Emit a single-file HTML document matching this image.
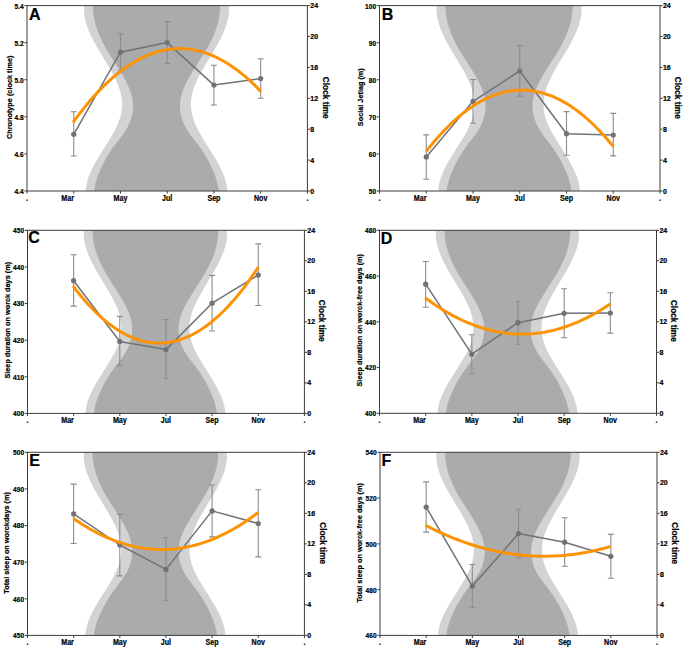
<!DOCTYPE html><html><head><meta charset="utf-8"><style>html,body{margin:0;padding:0;background:#fff;}svg{display:block;}text{font-family:"Liberation Sans",sans-serif;font-weight:bold;fill:#000;stroke:#000;stroke-width:0.22px;}</style></head><body>
<svg width="685" height="648" viewBox="0 0 685 648">
<rect width="685" height="648" fill="#fff"/>
<clipPath id="cA"><rect x="27.0" y="5.6" width="280.4" height="185.4"/></clipPath>
<g clip-path="url(#cA)"><path d="M84.33,3.75 L84.14,5.34 L84.03,6.92 L83.97,8.51 L83.97,10.10 L84.04,11.69 L84.16,13.28 L84.34,14.87 L84.58,16.46 L84.86,18.05 L85.20,19.64 L85.58,21.23 L86.02,22.82 L86.49,24.40 L87.01,25.99 L87.57,27.58 L88.17,29.17 L88.80,30.76 L89.47,32.35 L90.17,33.94 L90.91,35.53 L91.67,37.12 L92.46,38.71 L93.28,40.30 L94.12,41.89 L94.98,43.47 L95.86,45.06 L96.76,46.65 L97.67,48.24 L98.60,49.83 L99.54,51.42 L100.49,53.01 L101.45,54.60 L102.41,56.19 L103.37,57.78 L104.33,59.37 L105.29,60.96 L106.25,62.54 L107.20,64.13 L108.14,65.72 L109.07,67.31 L109.99,68.90 L110.89,70.49 L111.77,72.08 L112.63,73.67 L113.47,75.26 L114.28,76.85 L115.06,78.44 L115.82,80.02 L116.54,81.61 L117.23,83.20 L117.88,84.79 L118.50,86.38 L119.07,87.97 L119.59,89.56 L120.08,91.15 L120.51,92.74 L120.89,94.33 L121.22,95.92 L121.50,97.51 L121.72,99.09 L121.88,100.68 L121.98,102.27 L122.03,103.86 L122.02,105.45 L121.95,107.04 L121.83,108.63 L121.65,110.22 L121.42,111.81 L121.13,113.40 L120.78,114.99 L120.38,116.58 L119.92,118.16 L119.41,119.75 L118.84,121.34 L118.22,122.93 L117.55,124.52 L116.85,126.11 L116.09,127.70 L115.30,129.29 L114.48,130.88 L113.62,132.47 L112.74,134.06 L111.83,135.64 L110.89,137.23 L109.94,138.82 L108.97,140.41 L107.99,142.00 L106.99,143.59 L105.99,145.18 L104.99,146.77 L103.98,148.36 L102.98,149.95 L101.98,151.54 L100.98,153.13 L100.00,154.71 L99.02,156.30 L98.06,157.89 L97.12,159.48 L96.20,161.07 L95.30,162.66 L94.42,164.25 L93.57,165.84 L92.75,167.43 L91.97,169.02 L91.22,170.61 L90.50,172.20 L89.83,173.78 L89.20,175.37 L88.61,176.96 L88.07,178.55 L87.58,180.14 L87.13,181.73 L86.74,183.32 L86.41,184.91 L86.13,186.50 L85.91,188.09 L85.75,189.68 L85.65,191.26 L85.62,192.85 L227.38,192.85 L227.35,191.26 L227.25,189.68 L227.09,188.09 L226.87,186.50 L226.59,184.91 L226.26,183.32 L225.87,181.73 L225.42,180.14 L224.93,178.55 L224.39,176.96 L223.80,175.37 L223.17,173.78 L222.50,172.20 L221.78,170.61 L221.03,169.02 L220.25,167.43 L219.43,165.84 L218.58,164.25 L217.70,162.66 L216.80,161.07 L215.88,159.48 L214.94,157.89 L213.98,156.30 L213.00,154.71 L212.02,153.13 L211.02,151.54 L210.02,149.95 L209.02,148.36 L208.01,146.77 L207.01,145.18 L206.01,143.59 L205.01,142.00 L204.03,140.41 L203.06,138.82 L202.11,137.23 L201.17,135.64 L200.26,134.06 L199.38,132.47 L198.52,130.88 L197.70,129.29 L196.91,127.70 L196.15,126.11 L195.45,124.52 L194.78,122.93 L194.16,121.34 L193.59,119.75 L193.08,118.16 L192.62,116.58 L192.22,114.99 L191.87,113.40 L191.58,111.81 L191.35,110.22 L191.17,108.63 L191.05,107.04 L190.98,105.45 L190.97,103.86 L191.02,102.27 L191.12,100.68 L191.28,99.09 L191.50,97.51 L191.78,95.92 L192.11,94.33 L192.49,92.74 L192.92,91.15 L193.41,89.56 L193.93,87.97 L194.50,86.38 L195.12,84.79 L195.77,83.20 L196.46,81.61 L197.18,80.02 L197.94,78.44 L198.72,76.85 L199.53,75.26 L200.37,73.67 L201.23,72.08 L202.11,70.49 L203.01,68.90 L203.93,67.31 L204.86,65.72 L205.80,64.13 L206.75,62.54 L207.71,60.96 L208.67,59.37 L209.63,57.78 L210.59,56.19 L211.55,54.60 L212.51,53.01 L213.46,51.42 L214.40,49.83 L215.33,48.24 L216.24,46.65 L217.14,45.06 L218.02,43.47 L218.88,41.89 L219.72,40.30 L220.54,38.71 L221.33,37.12 L222.09,35.53 L222.83,33.94 L223.53,32.35 L224.20,30.76 L224.83,29.17 L225.43,27.58 L225.99,25.99 L226.51,24.40 L226.98,22.82 L227.42,21.23 L227.80,19.64 L228.14,18.05 L228.42,16.46 L228.66,14.87 L228.84,13.28 L228.96,11.69 L229.03,10.10 L229.03,8.51 L228.97,6.92 L228.86,5.34 L228.67,3.75 Z" fill="#d2d3d5"/><path d="M93.04,3.75 L92.98,5.34 L92.96,6.92 L92.98,8.51 L93.05,10.10 L93.17,11.69 L93.32,13.28 L93.51,14.87 L93.75,16.46 L94.03,18.05 L94.34,19.64 L94.69,21.23 L95.08,22.82 L95.51,24.40 L95.97,25.99 L96.47,27.58 L97.01,29.17 L97.57,30.76 L98.17,32.35 L98.81,33.94 L99.47,35.53 L100.17,37.12 L100.90,38.71 L101.65,40.30 L102.44,41.89 L103.25,43.47 L104.09,45.06 L104.96,46.65 L105.86,48.24 L106.78,49.83 L107.72,51.42 L108.68,53.01 L109.66,54.60 L110.65,56.19 L111.66,57.78 L112.67,59.37 L113.68,60.96 L114.70,62.54 L115.72,64.13 L116.74,65.72 L117.75,67.31 L118.75,68.90 L119.74,70.49 L120.72,72.08 L121.68,73.67 L122.62,75.26 L123.54,76.85 L124.43,78.44 L125.29,80.02 L126.12,81.61 L126.92,83.20 L127.68,84.79 L128.41,86.38 L129.09,87.97 L129.72,89.56 L130.31,91.15 L130.84,92.74 L131.33,94.33 L131.75,95.92 L132.12,97.51 L132.42,99.09 L132.67,100.68 L132.85,102.27 L132.97,103.86 L133.03,105.45 L133.02,107.04 L132.96,108.63 L132.83,110.22 L132.63,111.81 L132.38,113.40 L132.06,114.99 L131.68,116.58 L131.23,118.16 L130.73,119.75 L130.15,121.34 L129.52,122.93 L128.81,124.52 L128.04,126.11 L127.20,127.70 L126.28,129.29 L125.29,130.88 L124.24,132.47 L123.12,134.06 L121.97,135.64 L120.77,137.23 L119.56,138.82 L118.33,140.41 L117.10,142.00 L115.89,143.59 L114.69,145.18 L113.53,146.77 L112.40,148.36 L111.30,149.95 L110.23,151.54 L109.20,153.13 L108.20,154.71 L107.24,156.30 L106.31,157.89 L105.41,159.48 L104.55,161.07 L103.73,162.66 L102.93,164.25 L102.16,165.84 L101.43,167.43 L100.71,169.02 L100.02,170.61 L99.35,172.20 L98.70,173.78 L98.08,175.37 L97.50,176.96 L96.95,178.55 L96.44,180.14 L95.97,181.73 L95.54,183.32 L95.16,184.91 L94.84,186.50 L94.57,188.09 L94.36,189.68 L94.21,191.26 L94.13,192.85 L218.87,192.85 L218.79,191.26 L218.64,189.68 L218.43,188.09 L218.16,186.50 L217.84,184.91 L217.46,183.32 L217.03,181.73 L216.56,180.14 L216.05,178.55 L215.50,176.96 L214.92,175.37 L214.30,173.78 L213.65,172.20 L212.98,170.61 L212.29,169.02 L211.57,167.43 L210.84,165.84 L210.07,164.25 L209.27,162.66 L208.45,161.07 L207.59,159.48 L206.69,157.89 L205.76,156.30 L204.80,154.71 L203.80,153.13 L202.77,151.54 L201.70,149.95 L200.60,148.36 L199.47,146.77 L198.31,145.18 L197.11,143.59 L195.90,142.00 L194.67,140.41 L193.44,138.82 L192.23,137.23 L191.03,135.64 L189.88,134.06 L188.76,132.47 L187.71,130.88 L186.72,129.29 L185.80,127.70 L184.96,126.11 L184.19,124.52 L183.48,122.93 L182.85,121.34 L182.27,119.75 L181.77,118.16 L181.32,116.58 L180.94,114.99 L180.62,113.40 L180.37,111.81 L180.17,110.22 L180.04,108.63 L179.98,107.04 L179.97,105.45 L180.03,103.86 L180.15,102.27 L180.33,100.68 L180.58,99.09 L180.88,97.51 L181.25,95.92 L181.67,94.33 L182.16,92.74 L182.69,91.15 L183.28,89.56 L183.91,87.97 L184.59,86.38 L185.32,84.79 L186.08,83.20 L186.88,81.61 L187.71,80.02 L188.57,78.44 L189.46,76.85 L190.38,75.26 L191.32,73.67 L192.28,72.08 L193.26,70.49 L194.25,68.90 L195.25,67.31 L196.26,65.72 L197.28,64.13 L198.30,62.54 L199.32,60.96 L200.33,59.37 L201.34,57.78 L202.35,56.19 L203.34,54.60 L204.32,53.01 L205.28,51.42 L206.22,49.83 L207.14,48.24 L208.04,46.65 L208.91,45.06 L209.75,43.47 L210.56,41.89 L211.35,40.30 L212.10,38.71 L212.83,37.12 L213.53,35.53 L214.19,33.94 L214.83,32.35 L215.43,30.76 L215.99,29.17 L216.53,27.58 L217.03,25.99 L217.49,24.40 L217.92,22.82 L218.31,21.23 L218.66,19.64 L218.97,18.05 L219.25,16.46 L219.49,14.87 L219.68,13.28 L219.83,11.69 L219.95,10.10 L220.02,8.51 L220.04,6.92 L220.02,5.34 L219.96,3.75 Z" fill="#aaabad"/></g>
<path d="M73.73,111.8 V156.0 M70.73,111.8 H76.73 M70.73,156.0 H76.73" stroke="#8c8c8c" stroke-width="1.1" fill="none"/>
<path d="M120.47,33.8 V70.3 M117.47,33.8 H123.47 M117.47,70.3 H123.47" stroke="#8c8c8c" stroke-width="1.1" fill="none"/>
<path d="M167.20,21.6 V63.4 M164.20,21.6 H170.20 M164.20,63.4 H170.20" stroke="#8c8c8c" stroke-width="1.1" fill="none"/>
<path d="M213.93,65.2 V105.0 M210.93,65.2 H216.93 M210.93,105.0 H216.93" stroke="#8c8c8c" stroke-width="1.1" fill="none"/>
<path d="M260.67,58.7 V98.2 M257.67,58.7 H263.67 M257.67,98.2 H263.67" stroke="#8c8c8c" stroke-width="1.1" fill="none"/>
<polyline points="73.73,134.3 120.47,52.2 167.20,42.6 213.93,85.1 260.67,78.5" stroke="#717275" stroke-width="1.5" fill="none" stroke-linejoin="round"/>
<circle cx="73.73" cy="134.3" r="2.6" fill="#717275"/>
<circle cx="120.47" cy="52.2" r="2.6" fill="#717275"/>
<circle cx="167.20" cy="42.6" r="2.6" fill="#717275"/>
<circle cx="213.93" cy="85.1" r="2.6" fill="#717275"/>
<circle cx="260.67" cy="78.5" r="2.6" fill="#717275"/>
<path d="M73.00,122.47 L76.19,118.12 L79.37,113.90 L82.56,109.81 L85.75,105.86 L88.93,102.04 L92.12,98.35 L95.31,94.79 L98.49,91.37 L101.68,88.07 L104.86,84.91 L108.05,81.88 L111.24,78.98 L114.42,76.22 L117.61,73.58 L120.80,71.08 L123.98,68.71 L127.17,66.47 L130.36,64.37 L133.54,62.39 L136.73,60.55 L139.92,58.84 L143.10,57.26 L146.29,55.82 L149.47,54.50 L152.66,53.32 L155.85,52.27 L159.03,51.35 L162.22,50.57 L165.41,49.91 L168.59,49.39 L171.78,49.00 L174.97,48.74 L178.15,48.61 L181.34,48.62 L184.53,48.76 L187.71,49.03 L190.90,49.43 L194.08,49.96 L197.27,50.63 L200.46,51.43 L203.64,52.35 L206.83,53.42 L210.02,54.61 L213.20,55.93 L216.39,57.39 L219.58,58.98 L222.76,60.70 L225.95,62.55 L229.14,64.54 L232.32,66.66 L235.51,68.91 L238.69,71.29 L241.88,73.80 L245.07,76.44 L248.25,79.22 L251.44,82.13 L254.63,85.17 L257.81,88.34 L261.00,91.65" stroke="#fc9304" stroke-width="3.0" fill="none"/>
<rect x="27.0" y="5.6" width="280.4" height="185.4" fill="none" stroke="#3c3c3c" stroke-width="1"/>
<path d="M27.00,191.0 v2.6 M73.73,191.0 v2.6 M120.47,191.0 v2.6 M167.20,191.0 v2.6 M213.93,191.0 v2.6 M260.67,191.0 v2.6 M307.40,191.0 v2.6 M27.0,191.00 h-2.6 M27.0,153.92 h-2.6 M27.0,116.84 h-2.6 M27.0,79.76 h-2.6 M27.0,42.68 h-2.6 M27.0,5.60 h-2.6 M307.4,191.00 h2.6 M307.4,160.10 h2.6 M307.4,129.20 h2.6 M307.4,98.30 h2.6 M307.4,67.40 h2.6 M307.4,36.50 h2.6 M307.4,5.60 h2.6" stroke="#3c3c3c" stroke-width="1" fill="none"/>
<text transform="translate(23.60,193.90) scale(0.88,1)" font-size="7.5" text-anchor="end">4.4</text>
<text transform="translate(23.60,156.82) scale(0.88,1)" font-size="7.5" text-anchor="end">4.6</text>
<text transform="translate(23.60,119.74) scale(0.88,1)" font-size="7.5" text-anchor="end">4.8</text>
<text transform="translate(23.60,82.66) scale(0.88,1)" font-size="7.5" text-anchor="end">5.0</text>
<text transform="translate(23.60,45.58) scale(0.88,1)" font-size="7.5" text-anchor="end">5.2</text>
<text transform="translate(23.60,8.50) scale(0.88,1)" font-size="7.5" text-anchor="end">5.4</text>
<text x="310.30" y="193.50" font-size="7">0</text>
<text x="310.30" y="162.60" font-size="7">4</text>
<text x="310.30" y="131.70" font-size="7">8</text>
<text x="310.30" y="100.80" font-size="7">12</text>
<text x="310.30" y="69.90" font-size="7">16</text>
<text x="310.30" y="39.00" font-size="7">20</text>
<text x="310.30" y="8.10" font-size="7">24</text>
<text transform="translate(27.00,200.70) scale(0.8,1)" font-size="8.9" text-anchor="middle">.</text>
<text transform="translate(73.93,200.70) scale(0.8,1)" font-size="8.9" text-anchor="end">Mar</text>
<text transform="translate(120.47,200.70) scale(0.8,1)" font-size="8.9" text-anchor="middle">May</text>
<text transform="translate(167.20,200.70) scale(0.8,1)" font-size="8.9" text-anchor="middle">Jul</text>
<text transform="translate(213.93,200.70) scale(0.8,1)" font-size="8.9" text-anchor="middle">Sep</text>
<text transform="translate(260.67,200.70) scale(0.8,1)" font-size="8.9" text-anchor="middle">Nov</text>
<text transform="translate(307.40,200.70) scale(0.8,1)" font-size="8.9" text-anchor="middle">.</text>
<text x="28.90" y="19.70" font-size="16">A</text>
<text transform="translate(11.80,97.30) rotate(-90) scale(0.936,1)" font-size="7.8" text-anchor="middle">Chronotype (clock time)</text>
<text transform="translate(323.00,97.75) rotate(90) scale(0.933,1)" font-size="8.9" text-anchor="middle">Clock time</text>
<clipPath id="cB"><rect x="379.5" y="5.6" width="280.5" height="185.4"/></clipPath>
<g clip-path="url(#cB)"><path d="M436.85,3.75 L436.67,5.34 L436.55,6.92 L436.49,8.51 L436.50,10.10 L436.56,11.69 L436.68,13.28 L436.86,14.87 L437.10,16.46 L437.38,18.05 L437.72,19.64 L438.10,21.23 L438.54,22.82 L439.01,24.40 L439.53,25.99 L440.09,27.58 L440.69,29.17 L441.32,30.76 L441.99,32.35 L442.70,33.94 L443.43,35.53 L444.19,37.12 L444.98,38.71 L445.80,40.30 L446.64,41.89 L447.50,43.47 L448.38,45.06 L449.28,46.65 L450.20,48.24 L451.13,49.83 L452.07,51.42 L453.02,53.01 L453.97,54.60 L454.93,56.19 L455.90,57.78 L456.86,59.37 L457.82,60.96 L458.78,62.54 L459.73,64.13 L460.67,65.72 L461.60,67.31 L462.52,68.90 L463.42,70.49 L464.30,72.08 L465.16,73.67 L466.00,75.26 L466.81,76.85 L467.60,78.44 L468.35,80.02 L469.07,81.61 L469.76,83.20 L470.41,84.79 L471.03,86.38 L471.60,87.97 L472.13,89.56 L472.61,91.15 L473.04,92.74 L473.43,94.33 L473.76,95.92 L474.03,97.51 L474.25,99.09 L474.41,100.68 L474.52,102.27 L474.56,103.86 L474.55,105.45 L474.49,107.04 L474.36,108.63 L474.19,110.22 L473.95,111.81 L473.66,113.40 L473.31,114.99 L472.91,116.58 L472.45,118.16 L471.94,119.75 L471.37,121.34 L470.75,122.93 L470.09,124.52 L469.38,126.11 L468.63,127.70 L467.84,129.29 L467.01,130.88 L466.15,132.47 L465.27,134.06 L464.36,135.64 L463.42,137.23 L462.47,138.82 L461.50,140.41 L460.51,142.00 L459.52,143.59 L458.52,145.18 L457.52,146.77 L456.51,148.36 L455.50,149.95 L454.50,151.54 L453.51,153.13 L452.52,154.71 L451.55,156.30 L450.59,157.89 L449.64,159.48 L448.72,161.07 L447.82,162.66 L446.94,164.25 L446.10,165.84 L445.28,167.43 L444.49,169.02 L443.74,170.61 L443.03,172.20 L442.35,173.78 L441.72,175.37 L441.13,176.96 L440.59,178.55 L440.10,180.14 L439.66,181.73 L439.26,183.32 L438.93,184.91 L438.65,186.50 L438.43,188.09 L438.27,189.68 L438.17,191.26 L438.14,192.85 L579.95,192.85 L579.92,191.26 L579.82,189.68 L579.66,188.09 L579.44,186.50 L579.16,184.91 L578.83,183.32 L578.44,181.73 L577.99,180.14 L577.50,178.55 L576.96,176.96 L576.37,175.37 L575.74,173.78 L575.07,172.20 L574.35,170.61 L573.60,169.02 L572.82,167.43 L572.00,165.84 L571.15,164.25 L570.27,162.66 L569.37,161.07 L568.45,159.48 L567.50,157.89 L566.54,156.30 L565.57,154.71 L564.59,153.13 L563.59,151.54 L562.59,149.95 L561.58,148.36 L560.58,146.77 L559.57,145.18 L558.57,143.59 L557.58,142.00 L556.59,140.41 L555.62,138.82 L554.67,137.23 L553.74,135.64 L552.82,134.06 L551.94,132.47 L551.08,130.88 L550.26,129.29 L549.47,127.70 L548.72,126.11 L548.01,124.52 L547.34,122.93 L546.72,121.34 L546.15,119.75 L545.64,118.16 L545.18,116.58 L544.78,114.99 L544.43,113.40 L544.14,111.81 L543.91,110.22 L543.73,108.63 L543.61,107.04 L543.54,105.45 L543.53,103.86 L543.58,102.27 L543.68,100.68 L543.84,99.09 L544.06,97.51 L544.34,95.92 L544.67,94.33 L545.05,92.74 L545.48,91.15 L545.96,89.56 L546.49,87.97 L547.06,86.38 L547.68,84.79 L548.33,83.20 L549.02,81.61 L549.74,80.02 L550.50,78.44 L551.28,76.85 L552.09,75.26 L552.93,73.67 L553.79,72.08 L554.68,70.49 L555.58,68.90 L556.49,67.31 L557.42,65.72 L558.36,64.13 L559.31,62.54 L560.27,60.96 L561.23,59.37 L562.19,57.78 L563.16,56.19 L564.12,54.60 L565.08,53.01 L566.03,51.42 L566.97,49.83 L567.90,48.24 L568.81,46.65 L569.71,45.06 L570.59,43.47 L571.45,41.89 L572.29,40.30 L573.11,38.71 L573.90,37.12 L574.66,35.53 L575.40,33.94 L576.10,32.35 L576.77,30.76 L577.40,29.17 L578.00,27.58 L578.56,25.99 L579.08,24.40 L579.56,22.82 L579.99,21.23 L580.37,19.64 L580.71,18.05 L580.99,16.46 L581.23,14.87 L581.41,13.28 L581.53,11.69 L581.60,10.10 L581.60,8.51 L581.55,6.92 L581.43,5.34 L581.24,3.75 Z" fill="#d2d3d5"/><path d="M445.56,3.75 L445.50,5.34 L445.48,6.92 L445.51,8.51 L445.58,10.10 L445.69,11.69 L445.84,13.28 L446.04,14.87 L446.27,16.46 L446.55,18.05 L446.86,19.64 L447.22,21.23 L447.61,22.82 L448.03,24.40 L448.50,25.99 L449.00,27.58 L449.53,29.17 L450.10,30.76 L450.70,32.35 L451.33,33.94 L452.00,35.53 L452.70,37.12 L453.42,38.71 L454.18,40.30 L454.97,41.89 L455.78,43.47 L456.62,45.06 L457.49,46.65 L458.39,48.24 L459.31,49.83 L460.25,51.42 L461.21,53.01 L462.19,54.60 L463.18,56.19 L464.19,57.78 L465.20,59.37 L466.21,60.96 L467.23,62.54 L468.25,64.13 L469.27,65.72 L470.28,67.31 L471.28,68.90 L472.28,70.49 L473.25,72.08 L474.21,73.67 L475.15,75.26 L476.07,76.85 L476.96,78.44 L477.83,80.02 L478.66,81.61 L479.46,83.20 L480.22,84.79 L480.94,86.38 L481.62,87.97 L482.26,89.56 L482.84,91.15 L483.38,92.74 L483.86,94.33 L484.29,95.92 L484.66,97.51 L484.96,99.09 L485.21,100.68 L485.39,102.27 L485.51,103.86 L485.57,105.45 L485.56,107.04 L485.49,108.63 L485.36,110.22 L485.17,111.81 L484.91,113.40 L484.60,114.99 L484.22,116.58 L483.77,118.16 L483.26,119.75 L482.69,121.34 L482.05,122.93 L481.35,124.52 L480.58,126.11 L479.73,127.70 L478.82,129.29 L477.83,130.88 L476.77,132.47 L475.66,134.06 L474.50,135.64 L473.31,137.23 L472.09,138.82 L470.86,140.41 L469.64,142.00 L468.42,143.59 L467.22,145.18 L466.06,146.77 L464.93,148.36 L463.83,149.95 L462.76,151.54 L461.73,153.13 L460.73,154.71 L459.77,156.30 L458.84,157.89 L457.94,159.48 L457.08,161.07 L456.25,162.66 L455.46,164.25 L454.69,165.84 L453.95,167.43 L453.24,169.02 L452.54,170.61 L451.87,172.20 L451.23,173.78 L450.61,175.37 L450.02,176.96 L449.47,178.55 L448.96,180.14 L448.49,181.73 L448.07,183.32 L447.69,184.91 L447.36,186.50 L447.09,188.09 L446.88,189.68 L446.74,191.26 L446.65,192.85 L571.44,192.85 L571.36,191.26 L571.21,189.68 L571.00,188.09 L570.73,186.50 L570.40,184.91 L570.03,183.32 L569.60,181.73 L569.13,180.14 L568.62,178.55 L568.07,176.96 L567.48,175.37 L566.87,173.78 L566.22,172.20 L565.55,170.61 L564.86,169.02 L564.14,167.43 L563.40,165.84 L562.63,164.25 L561.84,162.66 L561.01,161.07 L560.15,159.48 L559.26,157.89 L558.33,156.30 L557.36,154.71 L556.36,153.13 L555.33,151.54 L554.26,149.95 L553.16,148.36 L552.03,146.77 L550.87,145.18 L549.67,143.59 L548.46,142.00 L547.23,140.41 L546.00,138.82 L544.79,137.23 L543.59,135.64 L542.43,134.06 L541.32,132.47 L540.26,130.88 L539.28,129.29 L538.36,127.70 L537.52,126.11 L536.74,124.52 L536.04,122.93 L535.40,121.34 L534.83,119.75 L534.32,118.16 L533.88,116.58 L533.50,114.99 L533.18,113.40 L532.92,111.81 L532.73,110.22 L532.60,108.63 L532.53,107.04 L532.53,105.45 L532.58,103.86 L532.70,102.27 L532.89,100.68 L533.13,99.09 L533.44,97.51 L533.80,95.92 L534.23,94.33 L534.71,92.74 L535.25,91.15 L535.84,89.56 L536.47,87.97 L537.15,86.38 L537.87,84.79 L538.64,83.20 L539.43,81.61 L540.27,80.02 L541.13,78.44 L542.02,76.85 L542.94,75.26 L543.88,73.67 L544.84,72.08 L545.82,70.49 L546.81,68.90 L547.81,67.31 L548.82,65.72 L549.84,64.13 L550.86,62.54 L551.88,60.96 L552.90,59.37 L553.91,57.78 L554.91,56.19 L555.90,54.60 L556.88,53.01 L557.84,51.42 L558.79,49.83 L559.71,48.24 L560.60,46.65 L561.47,45.06 L562.31,43.47 L563.13,41.89 L563.91,40.30 L564.67,38.71 L565.40,37.12 L566.09,35.53 L566.76,33.94 L567.39,32.35 L567.99,30.76 L568.56,29.17 L569.10,27.58 L569.59,25.99 L570.06,24.40 L570.49,22.82 L570.88,21.23 L571.23,19.64 L571.54,18.05 L571.82,16.46 L572.05,14.87 L572.25,13.28 L572.40,11.69 L572.51,10.10 L572.58,8.51 L572.61,6.92 L572.59,5.34 L572.53,3.75 Z" fill="#aaabad"/></g>
<path d="M426.25,134.9 V179.2 M423.25,134.9 H429.25 M423.25,179.2 H429.25" stroke="#8c8c8c" stroke-width="1.1" fill="none"/>
<path d="M473.00,79.5 V123.3 M470.00,79.5 H476.00 M470.00,123.3 H476.00" stroke="#8c8c8c" stroke-width="1.1" fill="none"/>
<path d="M519.75,45.8 V96.3 M516.75,45.8 H522.75 M516.75,96.3 H522.75" stroke="#8c8c8c" stroke-width="1.1" fill="none"/>
<path d="M566.50,111.6 V155.3 M563.50,111.6 H569.50 M563.50,155.3 H569.50" stroke="#8c8c8c" stroke-width="1.1" fill="none"/>
<path d="M613.25,113.4 V155.9 M610.25,113.4 H616.25 M610.25,155.9 H616.25" stroke="#8c8c8c" stroke-width="1.1" fill="none"/>
<polyline points="426.25,156.9 473.00,101.3 519.75,71.0 566.50,133.7 613.25,135.0" stroke="#717275" stroke-width="1.5" fill="none" stroke-linejoin="round"/>
<circle cx="426.25" cy="156.9" r="2.6" fill="#717275"/>
<circle cx="473.00" cy="101.3" r="2.6" fill="#717275"/>
<circle cx="519.75" cy="71.0" r="2.6" fill="#717275"/>
<circle cx="566.50" cy="133.7" r="2.6" fill="#717275"/>
<circle cx="613.25" cy="135.0" r="2.6" fill="#717275"/>
<path d="M426.20,151.39 L429.37,147.39 L432.55,143.52 L435.72,139.79 L438.89,136.19 L442.06,132.73 L445.24,129.40 L448.41,126.21 L451.58,123.15 L454.76,120.23 L457.93,117.44 L461.10,114.79 L464.27,112.27 L467.45,109.89 L470.62,107.65 L473.79,105.54 L476.97,103.56 L480.14,101.72 L483.31,100.02 L486.48,98.45 L489.66,97.01 L492.83,95.71 L496.00,94.55 L499.18,93.52 L502.35,92.63 L505.52,91.87 L508.69,91.25 L511.87,90.76 L515.04,90.40 L518.21,90.19 L521.39,90.10 L524.56,90.16 L527.73,90.34 L530.91,90.67 L534.08,91.13 L537.25,91.72 L540.42,92.45 L543.60,93.31 L546.77,94.31 L549.94,95.45 L553.12,96.72 L556.29,98.12 L559.46,99.66 L562.63,101.33 L565.81,103.15 L568.98,105.09 L572.15,107.17 L575.33,109.39 L578.50,111.74 L581.67,114.22 L584.84,116.85 L588.02,119.60 L591.19,122.49 L594.36,125.52 L597.54,128.68 L600.71,131.98 L603.88,135.41 L607.05,138.98 L610.23,142.68 L613.40,146.52" stroke="#fc9304" stroke-width="3.0" fill="none"/>
<rect x="379.5" y="5.6" width="280.5" height="185.4" fill="none" stroke="#3c3c3c" stroke-width="1"/>
<path d="M379.50,191.0 v2.6 M426.25,191.0 v2.6 M473.00,191.0 v2.6 M519.75,191.0 v2.6 M566.50,191.0 v2.6 M613.25,191.0 v2.6 M660.00,191.0 v2.6 M379.5,191.00 h-2.6 M379.5,153.92 h-2.6 M379.5,116.84 h-2.6 M379.5,79.76 h-2.6 M379.5,42.68 h-2.6 M379.5,5.60 h-2.6 M660.0,191.00 h2.6 M660.0,160.10 h2.6 M660.0,129.20 h2.6 M660.0,98.30 h2.6 M660.0,67.40 h2.6 M660.0,36.50 h2.6 M660.0,5.60 h2.6" stroke="#3c3c3c" stroke-width="1" fill="none"/>
<text transform="translate(376.10,193.90) scale(0.88,1)" font-size="7.5" text-anchor="end">50</text>
<text transform="translate(376.10,156.82) scale(0.88,1)" font-size="7.5" text-anchor="end">60</text>
<text transform="translate(376.10,119.74) scale(0.88,1)" font-size="7.5" text-anchor="end">70</text>
<text transform="translate(376.10,82.66) scale(0.88,1)" font-size="7.5" text-anchor="end">80</text>
<text transform="translate(376.10,45.58) scale(0.88,1)" font-size="7.5" text-anchor="end">90</text>
<text transform="translate(376.10,8.50) scale(0.88,1)" font-size="7.5" text-anchor="end">100</text>
<text x="662.90" y="193.50" font-size="7">0</text>
<text x="662.90" y="162.60" font-size="7">4</text>
<text x="662.90" y="131.70" font-size="7">8</text>
<text x="662.90" y="100.80" font-size="7">12</text>
<text x="662.90" y="69.90" font-size="7">16</text>
<text x="662.90" y="39.00" font-size="7">20</text>
<text x="662.90" y="8.10" font-size="7">24</text>
<text transform="translate(379.50,200.70) scale(0.8,1)" font-size="8.9" text-anchor="middle">.</text>
<text transform="translate(426.45,200.70) scale(0.8,1)" font-size="8.9" text-anchor="end">Mar</text>
<text transform="translate(473.00,200.70) scale(0.8,1)" font-size="8.9" text-anchor="middle">May</text>
<text transform="translate(519.75,200.70) scale(0.8,1)" font-size="8.9" text-anchor="middle">Jul</text>
<text transform="translate(566.50,200.70) scale(0.8,1)" font-size="8.9" text-anchor="middle">Sep</text>
<text transform="translate(613.25,200.70) scale(0.8,1)" font-size="8.9" text-anchor="middle">Nov</text>
<text transform="translate(660.00,200.70) scale(0.8,1)" font-size="8.9" text-anchor="middle">.</text>
<text x="381.80" y="19.60" font-size="16">B</text>
<text transform="translate(363.00,97.20) rotate(-90) scale(0.936,1)" font-size="7.8" text-anchor="middle">Social Jetlag (m)</text>
<text transform="translate(675.10,97.80) rotate(90) scale(0.933,1)" font-size="8.9" text-anchor="middle">Clock time</text>
<clipPath id="cC"><rect x="27.5" y="230.3" width="276.9" height="183.09999999999997"/></clipPath>
<g clip-path="url(#cC)"><path d="M84.11,228.47 L83.93,230.04 L83.81,231.61 L83.76,233.18 L83.76,234.75 L83.83,236.32 L83.95,237.89 L84.13,239.46 L84.36,241.02 L84.64,242.59 L84.97,244.16 L85.35,245.73 L85.78,247.30 L86.25,248.87 L86.76,250.44 L87.31,252.01 L87.90,253.58 L88.53,255.15 L89.19,256.72 L89.88,258.29 L90.61,259.86 L91.36,261.43 L92.14,263.00 L92.95,264.57 L93.78,266.14 L94.63,267.70 L95.50,269.27 L96.39,270.84 L97.29,272.41 L98.21,273.98 L99.14,275.55 L100.07,277.12 L101.02,278.69 L101.97,280.26 L102.92,281.83 L103.87,283.40 L104.82,284.97 L105.76,286.54 L106.70,288.11 L107.63,289.68 L108.55,291.25 L109.45,292.82 L110.34,294.38 L111.21,295.95 L112.06,297.52 L112.89,299.09 L113.69,300.66 L114.46,302.23 L115.21,303.80 L115.92,305.37 L116.60,306.94 L117.25,308.51 L117.85,310.08 L118.42,311.65 L118.94,313.22 L119.41,314.79 L119.84,316.36 L120.22,317.93 L120.55,319.50 L120.82,321.07 L121.03,322.63 L121.19,324.20 L121.30,325.77 L121.34,327.34 L121.33,328.91 L121.27,330.48 L121.15,332.05 L120.97,333.62 L120.74,335.19 L120.45,336.76 L120.11,338.33 L119.71,339.90 L119.26,341.47 L118.75,343.04 L118.19,344.61 L117.58,346.18 L116.92,347.75 L116.22,349.31 L115.48,350.88 L114.70,352.45 L113.89,354.02 L113.04,355.59 L112.17,357.16 L111.27,358.73 L110.35,360.30 L109.40,361.87 L108.45,363.44 L107.48,365.01 L106.49,366.58 L105.51,368.15 L104.51,369.72 L103.52,371.29 L102.53,372.86 L101.54,374.43 L100.56,376.00 L99.58,377.56 L98.62,379.13 L97.68,380.70 L96.74,382.27 L95.83,383.84 L94.94,385.41 L94.08,386.98 L93.24,388.55 L92.43,390.12 L91.66,391.69 L90.91,393.26 L90.21,394.83 L89.55,396.40 L88.92,397.97 L88.34,399.54 L87.81,401.11 L87.32,402.68 L86.88,404.25 L86.50,405.81 L86.17,407.38 L85.89,408.95 L85.67,410.52 L85.51,412.09 L85.42,413.66 L85.39,415.23 L225.38,415.23 L225.35,413.66 L225.25,412.09 L225.10,410.52 L224.88,408.95 L224.60,407.38 L224.27,405.81 L223.88,404.25 L223.45,402.68 L222.96,401.11 L222.42,399.54 L221.84,397.97 L221.22,396.40 L220.56,394.83 L219.85,393.26 L219.11,391.69 L218.34,390.12 L217.53,388.55 L216.69,386.98 L215.82,385.41 L214.93,383.84 L214.02,382.27 L213.09,380.70 L212.14,379.13 L211.18,377.56 L210.21,376.00 L209.23,374.43 L208.24,372.86 L207.25,371.29 L206.25,369.72 L205.26,368.15 L204.27,366.58 L203.29,365.01 L202.32,363.44 L201.36,361.87 L200.42,360.30 L199.50,358.73 L198.60,357.16 L197.73,355.59 L196.88,354.02 L196.06,352.45 L195.29,350.88 L194.54,349.31 L193.84,347.75 L193.19,346.18 L192.58,344.61 L192.02,343.04 L191.51,341.47 L191.06,339.90 L190.66,338.33 L190.32,336.76 L190.03,335.19 L189.80,333.62 L189.62,332.05 L189.50,330.48 L189.43,328.91 L189.42,327.34 L189.47,325.77 L189.57,324.20 L189.73,322.63 L189.95,321.07 L190.22,319.50 L190.55,317.93 L190.92,316.36 L191.35,314.79 L191.83,313.22 L192.35,311.65 L192.91,310.08 L193.52,308.51 L194.16,306.94 L194.84,305.37 L195.56,303.80 L196.30,302.23 L197.08,300.66 L197.88,299.09 L198.71,297.52 L199.56,295.95 L200.43,294.38 L201.32,292.82 L202.22,291.25 L203.14,289.68 L204.07,288.11 L205.00,286.54 L205.95,284.97 L206.90,283.40 L207.85,281.83 L208.80,280.26 L209.75,278.69 L210.69,277.12 L211.63,275.55 L212.56,273.98 L213.48,272.41 L214.38,270.84 L215.27,269.27 L216.14,267.70 L216.99,266.14 L217.82,264.57 L218.62,263.00 L219.40,261.43 L220.16,259.86 L220.88,258.29 L221.58,256.72 L222.24,255.15 L222.86,253.58 L223.46,252.01 L224.01,250.44 L224.52,248.87 L224.99,247.30 L225.41,245.73 L225.79,244.16 L226.13,242.59 L226.41,241.02 L226.64,239.46 L226.82,237.89 L226.94,236.32 L227.00,234.75 L227.01,233.18 L226.95,231.61 L226.84,230.04 L226.65,228.47 Z" fill="#d2d3d5"/><path d="M92.72,228.47 L92.65,230.04 L92.64,231.61 L92.66,233.18 L92.73,234.75 L92.84,236.32 L92.99,237.89 L93.18,239.46 L93.42,241.02 L93.69,242.59 L94.00,244.16 L94.35,245.73 L94.73,247.30 L95.15,248.87 L95.61,250.44 L96.10,252.01 L96.63,253.58 L97.19,255.15 L97.79,256.72 L98.41,258.29 L99.07,259.86 L99.76,261.43 L100.47,263.00 L101.22,264.57 L102.00,266.14 L102.80,267.70 L103.63,269.27 L104.49,270.84 L105.37,272.41 L106.28,273.98 L107.21,275.55 L108.16,277.12 L109.13,278.69 L110.11,280.26 L111.10,281.83 L112.10,283.40 L113.10,284.97 L114.11,286.54 L115.12,288.11 L116.12,289.68 L117.12,291.25 L118.11,292.82 L119.09,294.38 L120.05,295.95 L121.00,297.52 L121.92,299.09 L122.83,300.66 L123.71,302.23 L124.56,303.80 L125.39,305.37 L126.17,306.94 L126.93,308.51 L127.64,310.08 L128.31,311.65 L128.94,313.22 L129.52,314.79 L130.05,316.36 L130.52,317.93 L130.94,319.50 L131.31,321.07 L131.61,322.63 L131.85,324.20 L132.03,325.77 L132.15,327.34 L132.20,328.91 L132.20,330.48 L132.13,332.05 L132.00,333.62 L131.81,335.19 L131.56,336.76 L131.25,338.33 L130.87,339.90 L130.43,341.47 L129.93,343.04 L129.37,344.61 L128.74,346.18 L128.04,347.75 L127.28,349.31 L126.45,350.88 L125.54,352.45 L124.57,354.02 L123.52,355.59 L122.42,357.16 L121.28,358.73 L120.10,360.30 L118.90,361.87 L117.69,363.44 L116.48,365.01 L115.28,366.58 L114.10,368.15 L112.95,369.72 L111.83,371.29 L110.75,372.86 L109.69,374.43 L108.67,376.00 L107.69,377.56 L106.74,379.13 L105.82,380.70 L104.93,382.27 L104.08,383.84 L103.27,385.41 L102.48,386.98 L101.73,388.55 L101.00,390.12 L100.29,391.69 L99.61,393.26 L98.94,394.83 L98.31,396.40 L97.70,397.97 L97.12,399.54 L96.57,401.11 L96.07,402.68 L95.60,404.25 L95.19,405.81 L94.81,407.38 L94.49,408.95 L94.23,410.52 L94.02,412.09 L93.87,413.66 L93.79,415.23 L216.98,415.23 L216.89,413.66 L216.75,412.09 L216.54,410.52 L216.27,408.95 L215.95,407.38 L215.58,405.81 L215.16,404.25 L214.70,402.68 L214.19,401.11 L213.65,399.54 L213.07,397.97 L212.46,396.40 L211.82,394.83 L211.16,393.26 L210.48,391.69 L209.77,390.12 L209.04,388.55 L208.28,386.98 L207.50,385.41 L206.68,383.84 L205.83,382.27 L204.95,380.70 L204.03,379.13 L203.08,377.56 L202.09,376.00 L201.07,374.43 L200.02,372.86 L198.94,371.29 L197.82,369.72 L196.67,368.15 L195.49,366.58 L194.29,365.01 L193.08,363.44 L191.86,361.87 L190.66,360.30 L189.49,358.73 L188.34,357.16 L187.24,355.59 L186.20,354.02 L185.23,352.45 L184.32,350.88 L183.49,349.31 L182.73,347.75 L182.03,346.18 L181.40,344.61 L180.84,343.04 L180.33,341.47 L179.90,339.90 L179.52,338.33 L179.21,336.76 L178.95,335.19 L178.76,333.62 L178.63,332.05 L178.57,330.48 L178.56,328.91 L178.62,327.34 L178.74,325.77 L178.92,324.20 L179.16,322.63 L179.46,321.07 L179.82,319.50 L180.24,317.93 L180.72,316.36 L181.25,314.79 L181.83,313.22 L182.46,311.65 L183.13,310.08 L183.84,308.51 L184.59,306.94 L185.38,305.37 L186.20,303.80 L187.06,302.23 L187.94,300.66 L188.84,299.09 L189.77,297.52 L190.72,295.95 L191.68,294.38 L192.66,292.82 L193.65,291.25 L194.65,289.68 L195.65,288.11 L196.66,286.54 L197.67,284.97 L198.67,283.40 L199.67,281.83 L200.66,280.26 L201.64,278.69 L202.61,277.12 L203.55,275.55 L204.48,273.98 L205.39,272.41 L206.28,270.84 L207.13,269.27 L207.97,267.70 L208.77,266.14 L209.55,264.57 L210.29,263.00 L211.01,261.43 L211.70,259.86 L212.36,258.29 L212.98,256.72 L213.58,255.15 L214.14,253.58 L214.66,252.01 L215.16,250.44 L215.61,248.87 L216.03,247.30 L216.42,245.73 L216.77,244.16 L217.08,242.59 L217.35,241.02 L217.58,239.46 L217.78,237.89 L217.93,236.32 L218.04,234.75 L218.11,233.18 L218.13,231.61 L218.11,230.04 L218.05,228.47 Z" fill="#aaabad"/></g>
<path d="M73.65,254.8 V306.1 M70.65,254.8 H76.65 M70.65,306.1 H76.65" stroke="#8c8c8c" stroke-width="1.1" fill="none"/>
<path d="M119.80,316.4 V365.7 M116.80,316.4 H122.80 M116.80,365.7 H122.80" stroke="#8c8c8c" stroke-width="1.1" fill="none"/>
<path d="M165.95,319.5 V378.8 M162.95,319.5 H168.95 M162.95,378.8 H168.95" stroke="#8c8c8c" stroke-width="1.1" fill="none"/>
<path d="M212.10,275.4 V331.0 M209.10,275.4 H215.10 M209.10,331.0 H215.10" stroke="#8c8c8c" stroke-width="1.1" fill="none"/>
<path d="M258.25,243.9 V305.5 M255.25,243.9 H261.25 M255.25,305.5 H261.25" stroke="#8c8c8c" stroke-width="1.1" fill="none"/>
<polyline points="73.65,280.7 119.80,341.5 165.95,349.6 212.10,303.2 258.25,275.1" stroke="#717275" stroke-width="1.5" fill="none" stroke-linejoin="round"/>
<circle cx="73.65" cy="280.7" r="2.6" fill="#717275"/>
<circle cx="119.80" cy="341.5" r="2.6" fill="#717275"/>
<circle cx="165.95" cy="349.6" r="2.6" fill="#717275"/>
<circle cx="212.10" cy="303.2" r="2.6" fill="#717275"/>
<circle cx="258.25" cy="275.1" r="2.6" fill="#717275"/>
<path d="M73.00,285.96 L76.14,290.06 L79.29,294.01 L82.43,297.80 L85.58,301.44 L88.72,304.93 L91.86,308.27 L95.01,311.46 L98.15,314.49 L101.30,317.37 L104.44,320.09 L107.58,322.67 L110.73,325.09 L113.87,327.36 L117.02,329.48 L120.16,331.44 L123.31,333.25 L126.45,334.91 L129.59,336.42 L132.74,337.77 L135.88,338.98 L139.03,340.03 L142.17,340.92 L145.31,341.67 L148.46,342.26 L151.60,342.70 L154.75,342.99 L157.89,343.12 L161.03,343.10 L164.18,342.93 L167.32,342.61 L170.47,342.13 L173.61,341.50 L176.75,340.72 L179.90,339.79 L183.04,338.71 L186.19,337.47 L189.33,336.08 L192.47,334.53 L195.62,332.84 L198.76,330.99 L201.91,328.99 L205.05,326.84 L208.19,324.53 L211.34,322.07 L214.48,319.46 L217.63,316.70 L220.77,313.78 L223.92,310.71 L227.06,307.49 L230.20,304.12 L233.35,300.60 L236.49,296.92 L239.64,293.09 L242.78,289.10 L245.92,284.97 L249.07,280.68 L252.21,276.24 L255.36,271.65 L258.50,266.90" stroke="#fc9304" stroke-width="3.0" fill="none"/>
<rect x="27.5" y="230.3" width="276.9" height="183.09999999999997" fill="none" stroke="#3c3c3c" stroke-width="1"/>
<path d="M27.50,413.4 v2.6 M73.65,413.4 v2.6 M119.80,413.4 v2.6 M165.95,413.4 v2.6 M212.10,413.4 v2.6 M258.25,413.4 v2.6 M304.40,413.4 v2.6 M27.5,413.40 h-2.6 M27.5,376.78 h-2.6 M27.5,340.16 h-2.6 M27.5,303.54 h-2.6 M27.5,266.92 h-2.6 M27.5,230.30 h-2.6 M304.4,413.40 h2.6 M304.4,382.88 h2.6 M304.4,352.37 h2.6 M304.4,321.85 h2.6 M304.4,291.33 h2.6 M304.4,260.82 h2.6 M304.4,230.30 h2.6" stroke="#3c3c3c" stroke-width="1" fill="none"/>
<text transform="translate(24.10,416.30) scale(0.88,1)" font-size="7.5" text-anchor="end">400</text>
<text transform="translate(24.10,379.68) scale(0.88,1)" font-size="7.5" text-anchor="end">410</text>
<text transform="translate(24.10,343.06) scale(0.88,1)" font-size="7.5" text-anchor="end">420</text>
<text transform="translate(24.10,306.44) scale(0.88,1)" font-size="7.5" text-anchor="end">430</text>
<text transform="translate(24.10,269.82) scale(0.88,1)" font-size="7.5" text-anchor="end">440</text>
<text transform="translate(24.10,233.20) scale(0.88,1)" font-size="7.5" text-anchor="end">450</text>
<text x="307.30" y="415.90" font-size="7">0</text>
<text x="307.30" y="385.38" font-size="7">4</text>
<text x="307.30" y="354.87" font-size="7">8</text>
<text x="307.30" y="324.35" font-size="7">12</text>
<text x="307.30" y="293.83" font-size="7">16</text>
<text x="307.30" y="263.32" font-size="7">20</text>
<text x="307.30" y="232.80" font-size="7">24</text>
<text transform="translate(27.50,423.10) scale(0.8,1)" font-size="8.9" text-anchor="middle">.</text>
<text transform="translate(73.85,423.10) scale(0.8,1)" font-size="8.9" text-anchor="end">Mar</text>
<text transform="translate(119.80,423.10) scale(0.8,1)" font-size="8.9" text-anchor="middle">May</text>
<text transform="translate(165.95,423.10) scale(0.8,1)" font-size="8.9" text-anchor="middle">Jul</text>
<text transform="translate(212.10,423.10) scale(0.8,1)" font-size="8.9" text-anchor="middle">Sep</text>
<text transform="translate(258.25,423.10) scale(0.8,1)" font-size="8.9" text-anchor="middle">Nov</text>
<text transform="translate(304.40,423.10) scale(0.8,1)" font-size="8.9" text-anchor="middle">.</text>
<text x="28.20" y="243.30" font-size="16">C</text>
<text transform="translate(9.90,320.25) rotate(-90) scale(0.936,1)" font-size="7.8" text-anchor="middle">Sleep duration on worck days (m)</text>
<text transform="translate(319.20,320.75) rotate(90) scale(0.933,1)" font-size="8.9" text-anchor="middle">Clock time</text>
<clipPath id="cD"><rect x="379.5" y="230.3" width="277.0" height="183.0"/></clipPath>
<g clip-path="url(#cD)"><path d="M436.14,228.47 L435.95,230.04 L435.83,231.61 L435.78,233.18 L435.78,234.74 L435.85,236.31 L435.97,237.88 L436.15,239.45 L436.38,241.02 L436.66,242.59 L436.99,244.16 L437.37,245.72 L437.80,247.29 L438.27,248.86 L438.78,250.43 L439.33,252.00 L439.92,253.57 L440.55,255.14 L441.21,256.70 L441.91,258.27 L442.63,259.84 L443.39,261.41 L444.17,262.98 L444.97,264.55 L445.80,266.12 L446.65,267.68 L447.52,269.25 L448.41,270.82 L449.32,272.39 L450.23,273.96 L451.16,275.53 L452.10,277.10 L453.04,278.66 L453.99,280.23 L454.94,281.80 L455.90,283.37 L456.85,284.94 L457.79,286.51 L458.73,288.08 L459.66,289.64 L460.58,291.21 L461.48,292.78 L462.37,294.35 L463.24,295.92 L464.09,297.49 L464.92,299.06 L465.72,300.62 L466.50,302.19 L467.24,303.76 L467.96,305.33 L468.64,306.90 L469.28,308.47 L469.89,310.04 L470.45,311.60 L470.97,313.17 L471.45,314.74 L471.88,316.31 L472.25,317.88 L472.58,319.45 L472.85,321.02 L473.07,322.58 L473.23,324.15 L473.33,325.72 L473.38,327.29 L473.37,328.86 L473.30,330.43 L473.18,332.00 L473.00,333.56 L472.77,335.13 L472.48,336.70 L472.14,338.27 L471.74,339.84 L471.29,341.41 L470.78,342.98 L470.22,344.54 L469.61,346.11 L468.96,347.68 L468.26,349.25 L467.51,350.82 L466.73,352.39 L465.92,353.96 L465.07,355.52 L464.20,357.09 L463.30,358.66 L462.38,360.23 L461.43,361.80 L460.48,363.37 L459.50,364.94 L458.52,366.50 L457.53,368.07 L456.54,369.64 L455.55,371.21 L454.56,372.78 L453.57,374.35 L452.58,375.92 L451.61,377.48 L450.65,379.05 L449.70,380.62 L448.77,382.19 L447.86,383.76 L446.97,385.33 L446.10,386.90 L445.26,388.46 L444.46,390.03 L443.68,391.60 L442.94,393.17 L442.23,394.74 L441.57,396.31 L440.94,397.88 L440.36,399.44 L439.83,401.01 L439.34,402.58 L438.90,404.15 L438.52,405.72 L438.19,407.29 L437.91,408.86 L437.69,410.42 L437.53,411.99 L437.44,413.56 L437.41,415.13 L577.45,415.13 L577.42,413.56 L577.33,411.99 L577.17,410.42 L576.95,408.86 L576.67,407.29 L576.34,405.72 L575.95,404.15 L575.52,402.58 L575.03,401.01 L574.50,399.44 L573.92,397.88 L573.29,396.31 L572.63,394.74 L571.92,393.17 L571.18,391.60 L570.40,390.03 L569.60,388.46 L568.76,386.90 L567.89,385.33 L567.00,383.76 L566.09,382.19 L565.16,380.62 L564.21,379.05 L563.25,377.48 L562.28,375.92 L561.29,374.35 L560.30,372.78 L559.31,371.21 L558.32,369.64 L557.33,368.07 L556.34,366.50 L555.36,364.94 L554.38,363.37 L553.43,361.80 L552.48,360.23 L551.56,358.66 L550.66,357.09 L549.79,355.52 L548.94,353.96 L548.13,352.39 L547.35,350.82 L546.60,349.25 L545.90,347.68 L545.25,346.11 L544.64,344.54 L544.07,342.98 L543.57,341.41 L543.12,339.84 L542.72,338.27 L542.38,336.70 L542.09,335.13 L541.86,333.56 L541.68,332.00 L541.56,330.43 L541.49,328.86 L541.48,327.29 L541.53,325.72 L541.63,324.15 L541.79,322.58 L542.01,321.02 L542.28,319.45 L542.60,317.88 L542.98,316.31 L543.41,314.74 L543.89,313.17 L544.41,311.60 L544.97,310.04 L545.58,308.47 L546.22,306.90 L546.90,305.33 L547.62,303.76 L548.36,302.19 L549.14,300.62 L549.94,299.06 L550.77,297.49 L551.62,295.92 L552.49,294.35 L553.38,292.78 L554.28,291.21 L555.20,289.64 L556.13,288.08 L557.07,286.51 L558.01,284.94 L558.96,283.37 L559.92,281.80 L560.87,280.23 L561.82,278.66 L562.76,277.10 L563.70,275.53 L564.63,273.96 L565.54,272.39 L566.45,270.82 L567.34,269.25 L568.21,267.68 L569.06,266.12 L569.89,264.55 L570.69,262.98 L571.47,261.41 L572.23,259.84 L572.95,258.27 L573.65,256.70 L574.31,255.14 L574.94,253.57 L575.53,252.00 L576.08,250.43 L576.59,248.86 L577.06,247.29 L577.49,245.72 L577.87,244.16 L578.20,242.59 L578.48,241.02 L578.71,239.45 L578.89,237.88 L579.01,236.31 L579.08,234.74 L579.08,233.18 L579.03,231.61 L578.91,230.04 L578.72,228.47 Z" fill="#d2d3d5"/><path d="M444.74,228.47 L444.68,230.04 L444.66,231.61 L444.68,233.18 L444.75,234.74 L444.86,236.31 L445.02,237.88 L445.21,239.45 L445.44,241.02 L445.71,242.59 L446.02,244.16 L446.37,245.72 L446.76,247.29 L447.18,248.86 L447.64,250.43 L448.13,252.00 L448.66,253.57 L449.22,255.14 L449.81,256.70 L450.44,258.27 L451.09,259.84 L451.78,261.41 L452.50,262.98 L453.25,264.55 L454.02,266.12 L454.83,267.68 L455.66,269.25 L456.52,270.82 L457.40,272.39 L458.31,273.96 L459.24,275.53 L460.19,277.10 L461.16,278.66 L462.14,280.23 L463.13,281.80 L464.13,283.37 L465.13,284.94 L466.14,286.51 L467.15,288.08 L468.15,289.64 L469.15,291.21 L470.14,292.78 L471.12,294.35 L472.08,295.92 L473.03,297.49 L473.96,299.06 L474.86,300.62 L475.75,302.19 L476.60,303.76 L477.42,305.33 L478.21,306.90 L478.96,308.47 L479.68,310.04 L480.35,311.60 L480.97,313.17 L481.55,314.74 L482.08,316.31 L482.56,317.88 L482.98,319.45 L483.34,321.02 L483.65,322.58 L483.89,324.15 L484.07,325.72 L484.18,327.29 L484.24,328.86 L484.24,330.43 L484.17,332.00 L484.04,333.56 L483.85,335.13 L483.60,336.70 L483.29,338.27 L482.91,339.84 L482.47,341.41 L481.97,342.98 L481.40,344.54 L480.77,346.11 L480.08,347.68 L479.31,349.25 L478.48,350.82 L477.58,352.39 L476.60,353.96 L475.56,355.52 L474.46,357.09 L473.31,358.66 L472.14,360.23 L470.94,361.80 L469.72,363.37 L468.51,364.94 L467.31,366.50 L466.13,368.07 L464.98,369.64 L463.86,371.21 L462.78,372.78 L461.72,374.35 L460.70,375.92 L459.72,377.48 L458.76,379.05 L457.85,380.62 L456.96,382.19 L456.11,383.76 L455.30,385.33 L454.51,386.90 L453.75,388.46 L453.02,390.03 L452.32,391.60 L451.63,393.17 L450.97,394.74 L450.33,396.31 L449.72,397.88 L449.14,399.44 L448.60,401.01 L448.09,402.58 L447.63,404.15 L447.21,405.72 L446.84,407.29 L446.52,408.86 L446.25,410.42 L446.04,411.99 L445.90,413.56 L445.81,415.13 L569.05,415.13 L568.96,413.56 L568.82,411.99 L568.61,410.42 L568.34,408.86 L568.02,407.29 L567.65,405.72 L567.23,404.15 L566.77,402.58 L566.26,401.01 L565.72,399.44 L565.14,397.88 L564.53,396.31 L563.89,394.74 L563.23,393.17 L562.54,391.60 L561.84,390.03 L561.11,388.46 L560.35,386.90 L559.56,385.33 L558.75,383.76 L557.90,382.19 L557.01,380.62 L556.09,379.05 L555.14,377.48 L554.16,375.92 L553.14,374.35 L552.08,372.78 L551.00,371.21 L549.88,369.64 L548.73,368.07 L547.55,366.50 L546.35,364.94 L545.14,363.37 L543.92,361.80 L542.72,360.23 L541.54,358.66 L540.40,357.09 L539.30,355.52 L538.26,353.96 L537.28,352.39 L536.38,350.82 L535.54,349.25 L534.78,347.68 L534.09,346.11 L533.46,344.54 L532.89,342.98 L532.39,341.41 L531.95,339.84 L531.57,338.27 L531.26,336.70 L531.01,335.13 L530.82,333.56 L530.69,332.00 L530.62,330.43 L530.62,328.86 L530.67,327.29 L530.79,325.72 L530.97,324.15 L531.21,322.58 L531.52,321.02 L531.88,319.45 L532.30,317.88 L532.78,316.31 L533.31,314.74 L533.89,313.17 L534.51,311.60 L535.18,310.04 L535.90,308.47 L536.65,306.90 L537.44,305.33 L538.26,303.76 L539.11,302.19 L539.99,300.62 L540.90,299.06 L541.83,297.49 L542.78,295.92 L543.74,294.35 L544.72,292.78 L545.71,291.21 L546.71,289.64 L547.71,288.08 L548.72,286.51 L549.73,284.94 L550.73,283.37 L551.73,281.80 L552.72,280.23 L553.70,278.66 L554.67,277.10 L555.62,275.53 L556.55,273.96 L557.46,272.39 L558.34,270.82 L559.20,269.25 L560.03,267.68 L560.84,266.12 L561.61,264.55 L562.36,262.98 L563.08,261.41 L563.77,259.84 L564.42,258.27 L565.05,256.70 L565.64,255.14 L566.20,253.57 L566.73,252.00 L567.22,250.43 L567.68,248.86 L568.10,247.29 L568.49,245.72 L568.84,244.16 L569.15,242.59 L569.42,241.02 L569.65,239.45 L569.84,237.88 L570.00,236.31 L570.11,234.74 L570.17,233.18 L570.20,231.61 L570.18,230.04 L570.12,228.47 Z" fill="#aaabad"/></g>
<path d="M425.67,261.5 V307.3 M422.67,261.5 H428.67 M422.67,307.3 H428.67" stroke="#8c8c8c" stroke-width="1.1" fill="none"/>
<path d="M471.83,334.8 V373.7 M468.83,334.8 H474.83 M468.83,373.7 H474.83" stroke="#8c8c8c" stroke-width="1.1" fill="none"/>
<path d="M518.00,301.3 V344.2 M515.00,301.3 H521.00 M515.00,344.2 H521.00" stroke="#8c8c8c" stroke-width="1.1" fill="none"/>
<path d="M564.17,288.7 V337.8 M561.17,288.7 H567.17 M561.17,337.8 H567.17" stroke="#8c8c8c" stroke-width="1.1" fill="none"/>
<path d="M610.33,292.8 V333.1 M607.33,292.8 H613.33 M607.33,333.1 H613.33" stroke="#8c8c8c" stroke-width="1.1" fill="none"/>
<polyline points="425.67,284.2 471.83,354.2 518.00,322.7 564.17,313.3 610.33,313.0" stroke="#717275" stroke-width="1.5" fill="none" stroke-linejoin="round"/>
<circle cx="425.67" cy="284.2" r="2.6" fill="#717275"/>
<circle cx="471.83" cy="354.2" r="2.6" fill="#717275"/>
<circle cx="518.00" cy="322.7" r="2.6" fill="#717275"/>
<circle cx="564.17" cy="313.3" r="2.6" fill="#717275"/>
<circle cx="610.33" cy="313.0" r="2.6" fill="#717275"/>
<path d="M425.10,297.70 L428.24,300.02 L431.37,302.26 L434.51,304.43 L437.65,306.52 L440.79,308.53 L443.92,310.47 L447.06,312.33 L450.20,314.11 L453.34,315.82 L456.47,317.45 L459.61,319.01 L462.75,320.49 L465.88,321.89 L469.02,323.22 L472.16,324.47 L475.30,325.64 L478.43,326.74 L481.57,327.76 L484.71,328.71 L487.85,329.58 L490.98,330.37 L494.12,331.09 L497.26,331.73 L500.39,332.29 L503.53,332.78 L506.67,333.19 L509.81,333.52 L512.94,333.78 L516.08,333.96 L519.22,334.07 L522.36,334.10 L525.49,334.05 L528.63,333.93 L531.77,333.73 L534.91,333.46 L538.04,333.10 L541.18,332.68 L544.32,332.17 L547.45,331.59 L550.59,330.94 L553.73,330.20 L556.87,329.39 L560.00,328.51 L563.14,327.55 L566.28,326.51 L569.42,325.39 L572.55,324.20 L575.69,322.93 L578.83,321.59 L581.96,320.17 L585.10,318.68 L588.24,317.10 L591.38,315.45 L594.51,313.73 L597.65,311.93 L600.79,310.05 L603.93,308.10 L607.06,306.07 L610.20,303.96" stroke="#fc9304" stroke-width="3.0" fill="none"/>
<rect x="379.5" y="230.3" width="277.0" height="183.0" fill="none" stroke="#3c3c3c" stroke-width="1"/>
<path d="M379.50,413.3 v2.6 M425.67,413.3 v2.6 M471.83,413.3 v2.6 M518.00,413.3 v2.6 M564.17,413.3 v2.6 M610.33,413.3 v2.6 M656.50,413.3 v2.6 M379.5,413.30 h-2.6 M379.5,367.55 h-2.6 M379.5,321.80 h-2.6 M379.5,276.05 h-2.6 M379.5,230.30 h-2.6 M656.5,413.30 h2.6 M656.5,382.80 h2.6 M656.5,352.30 h2.6 M656.5,321.80 h2.6 M656.5,291.30 h2.6 M656.5,260.80 h2.6 M656.5,230.30 h2.6" stroke="#3c3c3c" stroke-width="1" fill="none"/>
<text transform="translate(376.10,416.20) scale(0.88,1)" font-size="7.5" text-anchor="end">400</text>
<text transform="translate(376.10,370.45) scale(0.88,1)" font-size="7.5" text-anchor="end">420</text>
<text transform="translate(376.10,324.70) scale(0.88,1)" font-size="7.5" text-anchor="end">440</text>
<text transform="translate(376.10,278.95) scale(0.88,1)" font-size="7.5" text-anchor="end">460</text>
<text transform="translate(376.10,233.20) scale(0.88,1)" font-size="7.5" text-anchor="end">480</text>
<text x="659.40" y="415.80" font-size="7">0</text>
<text x="659.40" y="385.30" font-size="7">4</text>
<text x="659.40" y="354.80" font-size="7">8</text>
<text x="659.40" y="324.30" font-size="7">12</text>
<text x="659.40" y="293.80" font-size="7">16</text>
<text x="659.40" y="263.30" font-size="7">20</text>
<text x="659.40" y="232.80" font-size="7">24</text>
<text transform="translate(379.50,423.00) scale(0.8,1)" font-size="8.9" text-anchor="middle">.</text>
<text transform="translate(425.87,423.00) scale(0.8,1)" font-size="8.9" text-anchor="end">Mar</text>
<text transform="translate(471.83,423.00) scale(0.8,1)" font-size="8.9" text-anchor="middle">May</text>
<text transform="translate(518.00,423.00) scale(0.8,1)" font-size="8.9" text-anchor="middle">Jul</text>
<text transform="translate(564.17,423.00) scale(0.8,1)" font-size="8.9" text-anchor="middle">Sep</text>
<text transform="translate(610.33,423.00) scale(0.8,1)" font-size="8.9" text-anchor="middle">Nov</text>
<text transform="translate(656.50,423.00) scale(0.8,1)" font-size="8.9" text-anchor="middle">.</text>
<text x="380.70" y="243.50" font-size="16">D</text>
<text transform="translate(362.20,320.25) rotate(-90) scale(0.936,1)" font-size="7.8" text-anchor="middle">Sleep duration on worck-free days (m)</text>
<text transform="translate(671.40,320.85) rotate(90) scale(0.933,1)" font-size="8.9" text-anchor="middle">Clock time</text>
<clipPath id="cE"><rect x="27.5" y="452.3" width="276.9" height="183.09999999999997"/></clipPath>
<g clip-path="url(#cE)"><path d="M84.11,450.47 L83.93,452.04 L83.81,453.61 L83.76,455.18 L83.76,456.75 L83.83,458.32 L83.95,459.89 L84.13,461.45 L84.36,463.02 L84.64,464.59 L84.97,466.16 L85.35,467.73 L85.78,469.30 L86.25,470.87 L86.76,472.44 L87.31,474.01 L87.90,475.58 L88.53,477.15 L89.19,478.72 L89.88,480.29 L90.61,481.86 L91.36,483.43 L92.14,485.00 L92.95,486.57 L93.78,488.14 L94.63,489.70 L95.50,491.27 L96.39,492.84 L97.29,494.41 L98.21,495.98 L99.14,497.55 L100.07,499.12 L101.02,500.69 L101.97,502.26 L102.92,503.83 L103.87,505.40 L104.82,506.97 L105.76,508.54 L106.70,510.11 L107.63,511.68 L108.55,513.25 L109.45,514.82 L110.34,516.38 L111.21,517.95 L112.06,519.52 L112.89,521.09 L113.69,522.66 L114.46,524.23 L115.21,525.80 L115.92,527.37 L116.60,528.94 L117.25,530.51 L117.85,532.08 L118.42,533.65 L118.94,535.22 L119.41,536.79 L119.84,538.36 L120.22,539.93 L120.55,541.50 L120.82,543.07 L121.03,544.63 L121.19,546.20 L121.30,547.77 L121.34,549.34 L121.33,550.91 L121.27,552.48 L121.15,554.05 L120.97,555.62 L120.74,557.19 L120.45,558.76 L120.11,560.33 L119.71,561.90 L119.26,563.47 L118.75,565.04 L118.19,566.61 L117.58,568.18 L116.92,569.75 L116.22,571.32 L115.48,572.88 L114.70,574.45 L113.89,576.02 L113.04,577.59 L112.17,579.16 L111.27,580.73 L110.35,582.30 L109.40,583.87 L108.45,585.44 L107.48,587.01 L106.49,588.58 L105.51,590.15 L104.51,591.72 L103.52,593.29 L102.53,594.86 L101.54,596.43 L100.56,598.00 L99.58,599.56 L98.62,601.13 L97.68,602.70 L96.74,604.27 L95.83,605.84 L94.94,607.41 L94.08,608.98 L93.24,610.55 L92.43,612.12 L91.66,613.69 L90.91,615.26 L90.21,616.83 L89.55,618.40 L88.92,619.97 L88.34,621.54 L87.81,623.11 L87.32,624.68 L86.88,626.25 L86.50,627.81 L86.17,629.38 L85.89,630.95 L85.67,632.52 L85.51,634.09 L85.42,635.66 L85.39,637.23 L225.38,637.23 L225.35,635.66 L225.25,634.09 L225.10,632.52 L224.88,630.95 L224.60,629.38 L224.27,627.81 L223.88,626.25 L223.45,624.68 L222.96,623.11 L222.42,621.54 L221.84,619.97 L221.22,618.40 L220.56,616.83 L219.85,615.26 L219.11,613.69 L218.34,612.12 L217.53,610.55 L216.69,608.98 L215.82,607.41 L214.93,605.84 L214.02,604.27 L213.09,602.70 L212.14,601.13 L211.18,599.56 L210.21,598.00 L209.23,596.43 L208.24,594.86 L207.25,593.29 L206.25,591.72 L205.26,590.15 L204.27,588.58 L203.29,587.01 L202.32,585.44 L201.36,583.87 L200.42,582.30 L199.50,580.73 L198.60,579.16 L197.73,577.59 L196.88,576.02 L196.06,574.45 L195.29,572.88 L194.54,571.32 L193.84,569.75 L193.19,568.18 L192.58,566.61 L192.02,565.04 L191.51,563.47 L191.06,561.90 L190.66,560.33 L190.32,558.76 L190.03,557.19 L189.80,555.62 L189.62,554.05 L189.50,552.48 L189.43,550.91 L189.42,549.34 L189.47,547.77 L189.57,546.20 L189.73,544.63 L189.95,543.07 L190.22,541.50 L190.55,539.93 L190.92,538.36 L191.35,536.79 L191.83,535.22 L192.35,533.65 L192.91,532.08 L193.52,530.51 L194.16,528.94 L194.84,527.37 L195.56,525.80 L196.30,524.23 L197.08,522.66 L197.88,521.09 L198.71,519.52 L199.56,517.95 L200.43,516.38 L201.32,514.82 L202.22,513.25 L203.14,511.68 L204.07,510.11 L205.00,508.54 L205.95,506.97 L206.90,505.40 L207.85,503.83 L208.80,502.26 L209.75,500.69 L210.69,499.12 L211.63,497.55 L212.56,495.98 L213.48,494.41 L214.38,492.84 L215.27,491.27 L216.14,489.70 L216.99,488.14 L217.82,486.57 L218.62,485.00 L219.40,483.43 L220.16,481.86 L220.88,480.29 L221.58,478.72 L222.24,477.15 L222.86,475.58 L223.46,474.01 L224.01,472.44 L224.52,470.87 L224.99,469.30 L225.41,467.73 L225.79,466.16 L226.13,464.59 L226.41,463.02 L226.64,461.45 L226.82,459.89 L226.94,458.32 L227.00,456.75 L227.01,455.18 L226.95,453.61 L226.84,452.04 L226.65,450.47 Z" fill="#d2d3d5"/><path d="M92.72,450.47 L92.65,452.04 L92.64,453.61 L92.66,455.18 L92.73,456.75 L92.84,458.32 L92.99,459.89 L93.18,461.45 L93.42,463.02 L93.69,464.59 L94.00,466.16 L94.35,467.73 L94.73,469.30 L95.15,470.87 L95.61,472.44 L96.10,474.01 L96.63,475.58 L97.19,477.15 L97.79,478.72 L98.41,480.29 L99.07,481.86 L99.76,483.43 L100.47,485.00 L101.22,486.57 L102.00,488.14 L102.80,489.70 L103.63,491.27 L104.49,492.84 L105.37,494.41 L106.28,495.98 L107.21,497.55 L108.16,499.12 L109.13,500.69 L110.11,502.26 L111.10,503.83 L112.10,505.40 L113.10,506.97 L114.11,508.54 L115.12,510.11 L116.12,511.68 L117.12,513.25 L118.11,514.82 L119.09,516.38 L120.05,517.95 L121.00,519.52 L121.92,521.09 L122.83,522.66 L123.71,524.23 L124.56,525.80 L125.39,527.37 L126.17,528.94 L126.93,530.51 L127.64,532.08 L128.31,533.65 L128.94,535.22 L129.52,536.79 L130.05,538.36 L130.52,539.93 L130.94,541.50 L131.31,543.07 L131.61,544.63 L131.85,546.20 L132.03,547.77 L132.15,549.34 L132.20,550.91 L132.20,552.48 L132.13,554.05 L132.00,555.62 L131.81,557.19 L131.56,558.76 L131.25,560.33 L130.87,561.90 L130.43,563.47 L129.93,565.04 L129.37,566.61 L128.74,568.18 L128.04,569.75 L127.28,571.32 L126.45,572.88 L125.54,574.45 L124.57,576.02 L123.52,577.59 L122.42,579.16 L121.28,580.73 L120.10,582.30 L118.90,583.87 L117.69,585.44 L116.48,587.01 L115.28,588.58 L114.10,590.15 L112.95,591.72 L111.83,593.29 L110.75,594.86 L109.69,596.43 L108.67,598.00 L107.69,599.56 L106.74,601.13 L105.82,602.70 L104.93,604.27 L104.08,605.84 L103.27,607.41 L102.48,608.98 L101.73,610.55 L101.00,612.12 L100.29,613.69 L99.61,615.26 L98.94,616.83 L98.31,618.40 L97.70,619.97 L97.12,621.54 L96.57,623.11 L96.07,624.68 L95.60,626.25 L95.19,627.81 L94.81,629.38 L94.49,630.95 L94.23,632.52 L94.02,634.09 L93.87,635.66 L93.79,637.23 L216.98,637.23 L216.89,635.66 L216.75,634.09 L216.54,632.52 L216.27,630.95 L215.95,629.38 L215.58,627.81 L215.16,626.25 L214.70,624.68 L214.19,623.11 L213.65,621.54 L213.07,619.97 L212.46,618.40 L211.82,616.83 L211.16,615.26 L210.48,613.69 L209.77,612.12 L209.04,610.55 L208.28,608.98 L207.50,607.41 L206.68,605.84 L205.83,604.27 L204.95,602.70 L204.03,601.13 L203.08,599.56 L202.09,598.00 L201.07,596.43 L200.02,594.86 L198.94,593.29 L197.82,591.72 L196.67,590.15 L195.49,588.58 L194.29,587.01 L193.08,585.44 L191.86,583.87 L190.66,582.30 L189.49,580.73 L188.34,579.16 L187.24,577.59 L186.20,576.02 L185.23,574.45 L184.32,572.88 L183.49,571.32 L182.73,569.75 L182.03,568.18 L181.40,566.61 L180.84,565.04 L180.33,563.47 L179.90,561.90 L179.52,560.33 L179.21,558.76 L178.95,557.19 L178.76,555.62 L178.63,554.05 L178.57,552.48 L178.56,550.91 L178.62,549.34 L178.74,547.77 L178.92,546.20 L179.16,544.63 L179.46,543.07 L179.82,541.50 L180.24,539.93 L180.72,538.36 L181.25,536.79 L181.83,535.22 L182.46,533.65 L183.13,532.08 L183.84,530.51 L184.59,528.94 L185.38,527.37 L186.20,525.80 L187.06,524.23 L187.94,522.66 L188.84,521.09 L189.77,519.52 L190.72,517.95 L191.68,516.38 L192.66,514.82 L193.65,513.25 L194.65,511.68 L195.65,510.11 L196.66,508.54 L197.67,506.97 L198.67,505.40 L199.67,503.83 L200.66,502.26 L201.64,500.69 L202.61,499.12 L203.55,497.55 L204.48,495.98 L205.39,494.41 L206.28,492.84 L207.13,491.27 L207.97,489.70 L208.77,488.14 L209.55,486.57 L210.29,485.00 L211.01,483.43 L211.70,481.86 L212.36,480.29 L212.98,478.72 L213.58,477.15 L214.14,475.58 L214.66,474.01 L215.16,472.44 L215.61,470.87 L216.03,469.30 L216.42,467.73 L216.77,466.16 L217.08,464.59 L217.35,463.02 L217.58,461.45 L217.78,459.89 L217.93,458.32 L218.04,456.75 L218.11,455.18 L218.13,453.61 L218.11,452.04 L218.05,450.47 Z" fill="#aaabad"/></g>
<path d="M73.65,484.1 V543.5 M70.65,484.1 H76.65 M70.65,543.5 H76.65" stroke="#8c8c8c" stroke-width="1.1" fill="none"/>
<path d="M119.80,514.3 V575.9 M116.80,514.3 H122.80 M116.80,575.9 H122.80" stroke="#8c8c8c" stroke-width="1.1" fill="none"/>
<path d="M165.95,537.5 V600.8 M162.95,537.5 H168.95 M162.95,600.8 H168.95" stroke="#8c8c8c" stroke-width="1.1" fill="none"/>
<path d="M212.10,485.0 V536.9 M209.10,485.0 H215.10 M209.10,536.9 H215.10" stroke="#8c8c8c" stroke-width="1.1" fill="none"/>
<path d="M258.25,489.8 V556.9 M255.25,489.8 H261.25 M255.25,556.9 H261.25" stroke="#8c8c8c" stroke-width="1.1" fill="none"/>
<polyline points="73.65,513.9 119.80,545.0 165.95,569.4 212.10,510.9 258.25,523.5" stroke="#717275" stroke-width="1.5" fill="none" stroke-linejoin="round"/>
<circle cx="73.65" cy="513.9" r="2.6" fill="#717275"/>
<circle cx="119.80" cy="545.0" r="2.6" fill="#717275"/>
<circle cx="165.95" cy="569.4" r="2.6" fill="#717275"/>
<circle cx="212.10" cy="510.9" r="2.6" fill="#717275"/>
<circle cx="258.25" cy="523.5" r="2.6" fill="#717275"/>
<path d="M73.40,518.37 L76.53,520.54 L79.67,522.63 L82.80,524.64 L85.94,526.58 L89.07,528.44 L92.20,530.21 L95.34,531.91 L98.47,533.53 L101.61,535.08 L104.74,536.54 L107.87,537.93 L111.01,539.24 L114.14,540.47 L117.27,541.62 L120.41,542.69 L123.54,543.69 L126.68,544.61 L129.81,545.44 L132.94,546.20 L136.08,546.89 L139.21,547.49 L142.35,548.02 L145.48,548.46 L148.61,548.83 L151.75,549.12 L154.88,549.33 L158.02,549.47 L161.15,549.52 L164.28,549.50 L167.42,549.40 L170.55,549.22 L173.68,548.96 L176.82,548.63 L179.95,548.21 L183.09,547.72 L186.22,547.15 L189.35,546.50 L192.49,545.78 L195.62,544.97 L198.76,544.09 L201.89,543.12 L205.02,542.08 L208.16,540.96 L211.29,539.77 L214.43,538.49 L217.56,537.14 L220.69,535.71 L223.83,534.20 L226.96,532.61 L230.09,530.94 L233.23,529.20 L236.36,527.37 L239.50,525.47 L242.63,523.49 L245.76,521.43 L248.90,519.30 L252.03,517.08 L255.17,514.79 L258.30,512.42" stroke="#fc9304" stroke-width="3.0" fill="none"/>
<rect x="27.5" y="452.3" width="276.9" height="183.09999999999997" fill="none" stroke="#3c3c3c" stroke-width="1"/>
<path d="M27.50,635.4 v2.6 M73.65,635.4 v2.6 M119.80,635.4 v2.6 M165.95,635.4 v2.6 M212.10,635.4 v2.6 M258.25,635.4 v2.6 M304.40,635.4 v2.6 M27.5,635.40 h-2.6 M27.5,598.78 h-2.6 M27.5,562.16 h-2.6 M27.5,525.54 h-2.6 M27.5,488.92 h-2.6 M27.5,452.30 h-2.6 M304.4,635.40 h2.6 M304.4,604.88 h2.6 M304.4,574.37 h2.6 M304.4,543.85 h2.6 M304.4,513.33 h2.6 M304.4,482.82 h2.6 M304.4,452.30 h2.6" stroke="#3c3c3c" stroke-width="1" fill="none"/>
<text transform="translate(24.10,638.30) scale(0.88,1)" font-size="7.5" text-anchor="end">450</text>
<text transform="translate(24.10,601.68) scale(0.88,1)" font-size="7.5" text-anchor="end">460</text>
<text transform="translate(24.10,565.06) scale(0.88,1)" font-size="7.5" text-anchor="end">470</text>
<text transform="translate(24.10,528.44) scale(0.88,1)" font-size="7.5" text-anchor="end">480</text>
<text transform="translate(24.10,491.82) scale(0.88,1)" font-size="7.5" text-anchor="end">490</text>
<text transform="translate(24.10,455.20) scale(0.88,1)" font-size="7.5" text-anchor="end">500</text>
<text x="307.30" y="637.90" font-size="7">0</text>
<text x="307.30" y="607.38" font-size="7">4</text>
<text x="307.30" y="576.87" font-size="7">8</text>
<text x="307.30" y="546.35" font-size="7">12</text>
<text x="307.30" y="515.83" font-size="7">16</text>
<text x="307.30" y="485.32" font-size="7">20</text>
<text x="307.30" y="454.80" font-size="7">24</text>
<text transform="translate(27.50,645.10) scale(0.8,1)" font-size="8.9" text-anchor="middle">.</text>
<text transform="translate(73.85,645.10) scale(0.8,1)" font-size="8.9" text-anchor="end">Mar</text>
<text transform="translate(119.80,645.10) scale(0.8,1)" font-size="8.9" text-anchor="middle">May</text>
<text transform="translate(165.95,645.10) scale(0.8,1)" font-size="8.9" text-anchor="middle">Jul</text>
<text transform="translate(212.10,645.10) scale(0.8,1)" font-size="8.9" text-anchor="middle">Sep</text>
<text transform="translate(258.25,645.10) scale(0.8,1)" font-size="8.9" text-anchor="middle">Nov</text>
<text transform="translate(304.40,645.10) scale(0.8,1)" font-size="8.9" text-anchor="middle">.</text>
<text x="29.20" y="465.80" font-size="16">E</text>
<text transform="translate(8.80,542.90) rotate(-90) scale(0.936,1)" font-size="7.8" text-anchor="middle">Total sleep on worckdays (m)</text>
<text transform="translate(319.60,543.20) rotate(90) scale(0.933,1)" font-size="8.9" text-anchor="middle">Clock time</text>
<clipPath id="cF"><rect x="380.0" y="452.3" width="277.0" height="183.09999999999997"/></clipPath>
<g clip-path="url(#cF)"><path d="M436.64,450.47 L436.45,452.04 L436.33,453.61 L436.28,455.18 L436.28,456.75 L436.35,458.32 L436.47,459.89 L436.65,461.45 L436.88,463.02 L437.16,464.59 L437.49,466.16 L437.87,467.73 L438.30,469.30 L438.77,470.87 L439.28,472.44 L439.83,474.01 L440.42,475.58 L441.05,477.15 L441.71,478.72 L442.41,480.29 L443.13,481.86 L443.89,483.43 L444.67,485.00 L445.47,486.57 L446.30,488.14 L447.15,489.70 L448.02,491.27 L448.91,492.84 L449.82,494.41 L450.73,495.98 L451.66,497.55 L452.60,499.12 L453.54,500.69 L454.49,502.26 L455.44,503.83 L456.40,505.40 L457.35,506.97 L458.29,508.54 L459.23,510.11 L460.16,511.68 L461.08,513.25 L461.98,514.82 L462.87,516.38 L463.74,517.95 L464.59,519.52 L465.42,521.09 L466.22,522.66 L467.00,524.23 L467.74,525.80 L468.46,527.37 L469.14,528.94 L469.78,530.51 L470.39,532.08 L470.95,533.65 L471.47,535.22 L471.95,536.79 L472.38,538.36 L472.75,539.93 L473.08,541.50 L473.35,543.07 L473.57,544.63 L473.73,546.20 L473.83,547.77 L473.88,549.34 L473.87,550.91 L473.80,552.48 L473.68,554.05 L473.50,555.62 L473.27,557.19 L472.98,558.76 L472.64,560.33 L472.24,561.90 L471.79,563.47 L471.28,565.04 L470.72,566.61 L470.11,568.18 L469.46,569.75 L468.76,571.32 L468.01,572.88 L467.23,574.45 L466.42,576.02 L465.57,577.59 L464.70,579.16 L463.80,580.73 L462.88,582.30 L461.93,583.87 L460.98,585.44 L460.00,587.01 L459.02,588.58 L458.03,590.15 L457.04,591.72 L456.05,593.29 L455.06,594.86 L454.07,596.43 L453.08,598.00 L452.11,599.56 L451.15,601.13 L450.20,602.70 L449.27,604.27 L448.36,605.84 L447.47,607.41 L446.60,608.98 L445.76,610.55 L444.96,612.12 L444.18,613.69 L443.44,615.26 L442.73,616.83 L442.07,618.40 L441.44,619.97 L440.86,621.54 L440.33,623.11 L439.84,624.68 L439.40,626.25 L439.02,627.81 L438.69,629.38 L438.41,630.95 L438.19,632.52 L438.03,634.09 L437.94,635.66 L437.91,637.23 L577.95,637.23 L577.92,635.66 L577.83,634.09 L577.67,632.52 L577.45,630.95 L577.17,629.38 L576.84,627.81 L576.45,626.25 L576.02,624.68 L575.53,623.11 L575.00,621.54 L574.42,619.97 L573.79,618.40 L573.13,616.83 L572.42,615.26 L571.68,613.69 L570.90,612.12 L570.10,610.55 L569.26,608.98 L568.39,607.41 L567.50,605.84 L566.59,604.27 L565.66,602.70 L564.71,601.13 L563.75,599.56 L562.78,598.00 L561.79,596.43 L560.80,594.86 L559.81,593.29 L558.82,591.72 L557.83,590.15 L556.84,588.58 L555.86,587.01 L554.88,585.44 L553.93,583.87 L552.98,582.30 L552.06,580.73 L551.16,579.16 L550.29,577.59 L549.44,576.02 L548.63,574.45 L547.85,572.88 L547.10,571.32 L546.40,569.75 L545.75,568.18 L545.14,566.61 L544.57,565.04 L544.07,563.47 L543.62,561.90 L543.22,560.33 L542.88,558.76 L542.59,557.19 L542.36,555.62 L542.18,554.05 L542.06,552.48 L541.99,550.91 L541.98,549.34 L542.03,547.77 L542.13,546.20 L542.29,544.63 L542.51,543.07 L542.78,541.50 L543.10,539.93 L543.48,538.36 L543.91,536.79 L544.39,535.22 L544.91,533.65 L545.47,532.08 L546.08,530.51 L546.72,528.94 L547.40,527.37 L548.12,525.80 L548.86,524.23 L549.64,522.66 L550.44,521.09 L551.27,519.52 L552.12,517.95 L552.99,516.38 L553.88,514.82 L554.78,513.25 L555.70,511.68 L556.63,510.11 L557.57,508.54 L558.51,506.97 L559.46,505.40 L560.42,503.83 L561.37,502.26 L562.32,500.69 L563.26,499.12 L564.20,497.55 L565.13,495.98 L566.04,494.41 L566.95,492.84 L567.84,491.27 L568.71,489.70 L569.56,488.14 L570.39,486.57 L571.19,485.00 L571.97,483.43 L572.73,481.86 L573.45,480.29 L574.15,478.72 L574.81,477.15 L575.44,475.58 L576.03,474.01 L576.58,472.44 L577.09,470.87 L577.56,469.30 L577.99,467.73 L578.37,466.16 L578.70,464.59 L578.98,463.02 L579.21,461.45 L579.39,459.89 L579.51,458.32 L579.58,456.75 L579.58,455.18 L579.53,453.61 L579.41,452.04 L579.22,450.47 Z" fill="#d2d3d5"/><path d="M445.24,450.47 L445.18,452.04 L445.16,453.61 L445.18,455.18 L445.25,456.75 L445.36,458.32 L445.52,459.89 L445.71,461.45 L445.94,463.02 L446.21,464.59 L446.52,466.16 L446.87,467.73 L447.26,469.30 L447.68,470.87 L448.14,472.44 L448.63,474.01 L449.16,475.58 L449.72,477.15 L450.31,478.72 L450.94,480.29 L451.59,481.86 L452.28,483.43 L453.00,485.00 L453.75,486.57 L454.52,488.14 L455.33,489.70 L456.16,491.27 L457.02,492.84 L457.90,494.41 L458.81,495.98 L459.74,497.55 L460.69,499.12 L461.66,500.69 L462.64,502.26 L463.63,503.83 L464.63,505.40 L465.63,506.97 L466.64,508.54 L467.65,510.11 L468.65,511.68 L469.65,513.25 L470.64,514.82 L471.62,516.38 L472.58,517.95 L473.53,519.52 L474.46,521.09 L475.36,522.66 L476.25,524.23 L477.10,525.80 L477.92,527.37 L478.71,528.94 L479.46,530.51 L480.18,532.08 L480.85,533.65 L481.47,535.22 L482.05,536.79 L482.58,538.36 L483.06,539.93 L483.48,541.50 L483.84,543.07 L484.15,544.63 L484.39,546.20 L484.57,547.77 L484.68,549.34 L484.74,550.91 L484.74,552.48 L484.67,554.05 L484.54,555.62 L484.35,557.19 L484.10,558.76 L483.79,560.33 L483.41,561.90 L482.97,563.47 L482.47,565.04 L481.90,566.61 L481.27,568.18 L480.58,569.75 L479.81,571.32 L478.98,572.88 L478.08,574.45 L477.10,576.02 L476.06,577.59 L474.96,579.16 L473.81,580.73 L472.64,582.30 L471.44,583.87 L470.22,585.44 L469.01,587.01 L467.81,588.58 L466.63,590.15 L465.48,591.72 L464.36,593.29 L463.28,594.86 L462.22,596.43 L461.20,598.00 L460.22,599.56 L459.26,601.13 L458.35,602.70 L457.46,604.27 L456.61,605.84 L455.80,607.41 L455.01,608.98 L454.25,610.55 L453.52,612.12 L452.82,613.69 L452.13,615.26 L451.47,616.83 L450.83,618.40 L450.22,619.97 L449.64,621.54 L449.10,623.11 L448.59,624.68 L448.13,626.25 L447.71,627.81 L447.34,629.38 L447.02,630.95 L446.75,632.52 L446.54,634.09 L446.40,635.66 L446.31,637.23 L569.55,637.23 L569.46,635.66 L569.32,634.09 L569.11,632.52 L568.84,630.95 L568.52,629.38 L568.15,627.81 L567.73,626.25 L567.27,624.68 L566.76,623.11 L566.22,621.54 L565.64,619.97 L565.03,618.40 L564.39,616.83 L563.73,615.26 L563.04,613.69 L562.34,612.12 L561.61,610.55 L560.85,608.98 L560.06,607.41 L559.25,605.84 L558.40,604.27 L557.51,602.70 L556.59,601.13 L555.64,599.56 L554.66,598.00 L553.64,596.43 L552.58,594.86 L551.50,593.29 L550.38,591.72 L549.23,590.15 L548.05,588.58 L546.85,587.01 L545.64,585.44 L544.42,583.87 L543.22,582.30 L542.04,580.73 L540.90,579.16 L539.80,577.59 L538.76,576.02 L537.78,574.45 L536.88,572.88 L536.04,571.32 L535.28,569.75 L534.59,568.18 L533.96,566.61 L533.39,565.04 L532.89,563.47 L532.45,561.90 L532.07,560.33 L531.76,558.76 L531.51,557.19 L531.32,555.62 L531.19,554.05 L531.12,552.48 L531.12,550.91 L531.17,549.34 L531.29,547.77 L531.47,546.20 L531.71,544.63 L532.02,543.07 L532.38,541.50 L532.80,539.93 L533.28,538.36 L533.81,536.79 L534.39,535.22 L535.01,533.65 L535.68,532.08 L536.40,530.51 L537.15,528.94 L537.94,527.37 L538.76,525.80 L539.61,524.23 L540.49,522.66 L541.40,521.09 L542.33,519.52 L543.28,517.95 L544.24,516.38 L545.22,514.82 L546.21,513.25 L547.21,511.68 L548.21,510.11 L549.22,508.54 L550.23,506.97 L551.23,505.40 L552.23,503.83 L553.22,502.26 L554.20,500.69 L555.17,499.12 L556.12,497.55 L557.05,495.98 L557.96,494.41 L558.84,492.84 L559.70,491.27 L560.53,489.70 L561.34,488.14 L562.11,486.57 L562.86,485.00 L563.58,483.43 L564.27,481.86 L564.92,480.29 L565.55,478.72 L566.14,477.15 L566.70,475.58 L567.23,474.01 L567.72,472.44 L568.18,470.87 L568.60,469.30 L568.99,467.73 L569.34,466.16 L569.65,464.59 L569.92,463.02 L570.15,461.45 L570.34,459.89 L570.50,458.32 L570.61,456.75 L570.67,455.18 L570.70,453.61 L570.68,452.04 L570.62,450.47 Z" fill="#aaabad"/></g>
<path d="M426.17,481.9 V532.1 M423.17,481.9 H429.17 M423.17,532.1 H429.17" stroke="#8c8c8c" stroke-width="1.1" fill="none"/>
<path d="M472.33,564.5 V607.7 M469.33,564.5 H475.33 M469.33,607.7 H475.33" stroke="#8c8c8c" stroke-width="1.1" fill="none"/>
<path d="M518.50,509.3 V558.0 M515.50,509.3 H521.50 M515.50,558.0 H521.50" stroke="#8c8c8c" stroke-width="1.1" fill="none"/>
<path d="M564.67,517.8 V566.3 M561.67,517.8 H567.67 M561.67,566.3 H567.67" stroke="#8c8c8c" stroke-width="1.1" fill="none"/>
<path d="M610.83,534.4 V578.3 M607.83,534.4 H613.83 M607.83,578.3 H613.83" stroke="#8c8c8c" stroke-width="1.1" fill="none"/>
<polyline points="426.17,507.2 472.33,586.1 518.50,533.6 564.67,542.2 610.83,556.3" stroke="#717275" stroke-width="1.5" fill="none" stroke-linejoin="round"/>
<circle cx="426.17" cy="507.2" r="2.6" fill="#717275"/>
<circle cx="472.33" cy="586.1" r="2.6" fill="#717275"/>
<circle cx="518.50" cy="533.6" r="2.6" fill="#717275"/>
<circle cx="564.67" cy="542.2" r="2.6" fill="#717275"/>
<circle cx="610.83" cy="556.3" r="2.6" fill="#717275"/>
<path d="M425.60,525.33 L428.74,526.94 L431.87,528.51 L435.01,530.04 L438.14,531.52 L441.28,532.96 L444.41,534.36 L447.55,535.71 L450.68,537.02 L453.82,538.29 L456.96,539.51 L460.09,540.69 L463.23,541.83 L466.36,542.92 L469.50,543.98 L472.63,544.98 L475.77,545.95 L478.91,546.87 L482.04,547.75 L485.18,548.58 L488.31,549.37 L491.45,550.12 L494.58,550.83 L497.72,551.49 L500.85,552.11 L503.99,552.68 L507.13,553.21 L510.26,553.70 L513.40,554.15 L516.53,554.55 L519.67,554.91 L522.80,555.22 L525.94,555.50 L529.07,555.73 L532.21,555.91 L535.35,556.05 L538.48,556.15 L541.62,556.21 L544.75,556.22 L547.89,556.19 L551.02,556.12 L554.16,556.00 L557.29,555.84 L560.43,555.64 L563.57,555.39 L566.70,555.10 L569.84,554.77 L572.97,554.40 L576.11,553.98 L579.24,553.51 L582.38,553.01 L585.52,552.46 L588.65,551.87 L591.79,551.23 L594.92,550.55 L598.06,549.83 L601.19,549.07 L604.33,548.26 L607.46,547.41 L610.60,546.51" stroke="#fc9304" stroke-width="3.0" fill="none"/>
<rect x="380.0" y="452.3" width="277.0" height="183.09999999999997" fill="none" stroke="#3c3c3c" stroke-width="1"/>
<path d="M380.00,635.4 v2.6 M426.17,635.4 v2.6 M472.33,635.4 v2.6 M518.50,635.4 v2.6 M564.67,635.4 v2.6 M610.83,635.4 v2.6 M657.00,635.4 v2.6 M380.0,635.40 h-2.6 M380.0,589.62 h-2.6 M380.0,543.85 h-2.6 M380.0,498.07 h-2.6 M380.0,452.30 h-2.6 M657.0,635.40 h2.6 M657.0,604.88 h2.6 M657.0,574.37 h2.6 M657.0,543.85 h2.6 M657.0,513.33 h2.6 M657.0,482.82 h2.6 M657.0,452.30 h2.6" stroke="#3c3c3c" stroke-width="1" fill="none"/>
<text transform="translate(376.60,638.30) scale(0.88,1)" font-size="7.5" text-anchor="end">460</text>
<text transform="translate(376.60,592.52) scale(0.88,1)" font-size="7.5" text-anchor="end">480</text>
<text transform="translate(376.60,546.75) scale(0.88,1)" font-size="7.5" text-anchor="end">500</text>
<text transform="translate(376.60,500.97) scale(0.88,1)" font-size="7.5" text-anchor="end">520</text>
<text transform="translate(376.60,455.20) scale(0.88,1)" font-size="7.5" text-anchor="end">540</text>
<text x="659.90" y="637.90" font-size="7">0</text>
<text x="659.90" y="607.38" font-size="7">4</text>
<text x="659.90" y="576.87" font-size="7">8</text>
<text x="659.90" y="546.35" font-size="7">12</text>
<text x="659.90" y="515.83" font-size="7">16</text>
<text x="659.90" y="485.32" font-size="7">20</text>
<text x="659.90" y="454.80" font-size="7">24</text>
<text transform="translate(380.00,645.10) scale(0.8,1)" font-size="8.9" text-anchor="middle">.</text>
<text transform="translate(426.37,645.10) scale(0.8,1)" font-size="8.9" text-anchor="end">Mar</text>
<text transform="translate(472.33,645.10) scale(0.8,1)" font-size="8.9" text-anchor="middle">May</text>
<text transform="translate(518.50,645.10) scale(0.8,1)" font-size="8.9" text-anchor="middle">Jul</text>
<text transform="translate(564.67,645.10) scale(0.8,1)" font-size="8.9" text-anchor="middle">Sep</text>
<text transform="translate(610.83,645.10) scale(0.8,1)" font-size="8.9" text-anchor="middle">Nov</text>
<text transform="translate(657.00,645.10) scale(0.8,1)" font-size="8.9" text-anchor="middle">.</text>
<text x="381.60" y="465.80" font-size="16">F</text>
<text transform="translate(361.60,542.85) rotate(-90) scale(0.936,1)" font-size="7.8" text-anchor="middle">Total sleep on worck-free days (m)</text>
<text transform="translate(671.70,543.20) rotate(90) scale(0.933,1)" font-size="8.9" text-anchor="middle">Clock time</text>
</svg></body></html>
